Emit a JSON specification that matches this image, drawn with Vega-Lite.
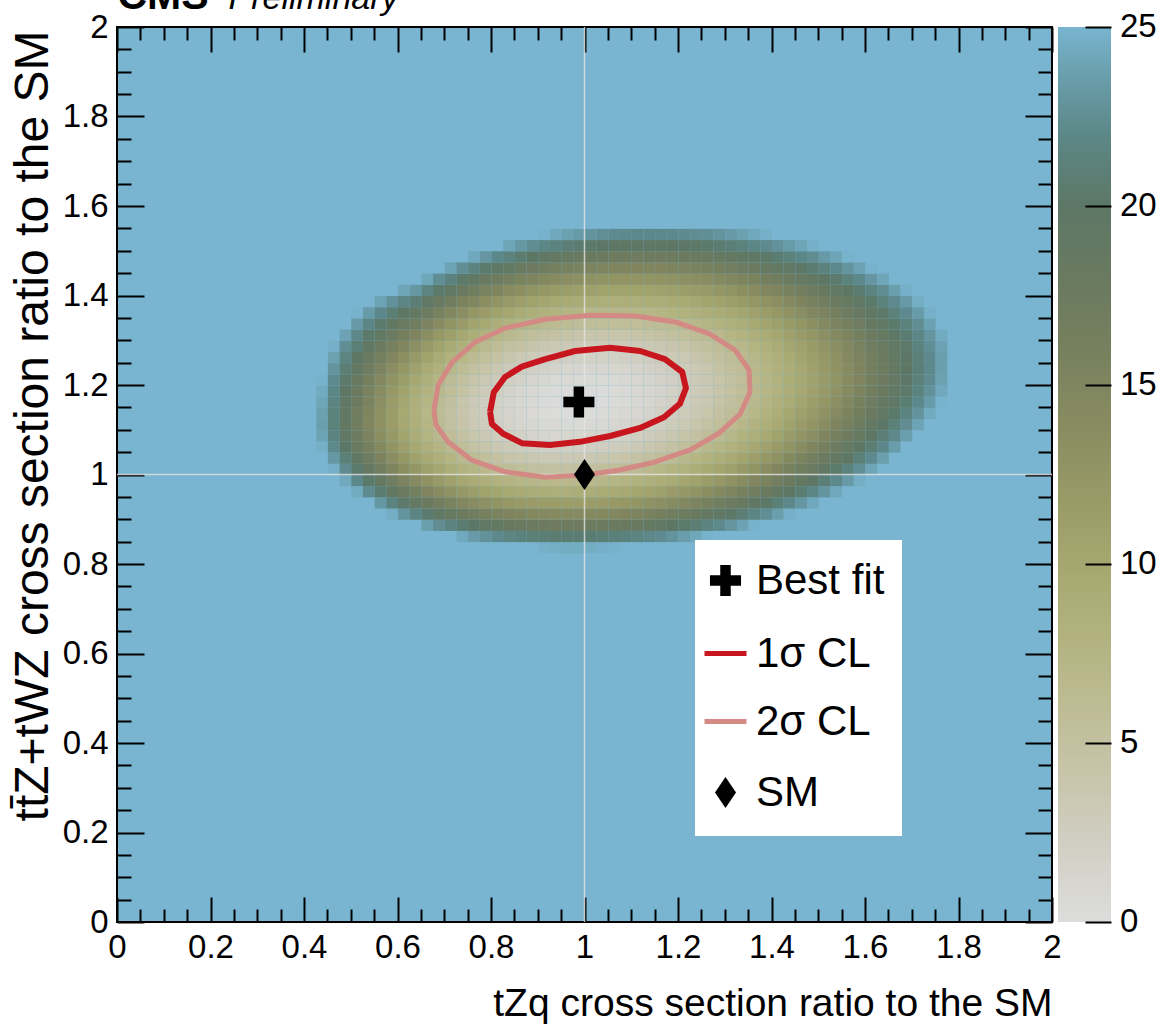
{
  "$schema": "https://vega.github.io/schema/vega-lite/v6.json",
  "width": 935,
  "height": 895,
  "autosize": "none",
  "padding": {"left": 117, "top": 27, "right": 107, "bottom": 104},
  "background": "white",
  "config": {
    "view": {"fill": "#79b5d0", "stroke": "black", "strokeWidth": 2},
    "axis": {"domain": false, "grid": false, "tickColor": "black", "tickWidth": 2, "labelColor": "black", "titleColor": "black", "labelFont": "Liberation Sans", "titleFont": "Liberation Sans", "titleFontWeight": "normal", "zindex": 1, "labelFlush": false, "labelOverlap": false, "labelBound": false}
  },
  "resolve": {"axis": {"x": "independent", "y": "independent"}},
  "layer": [
    {
      "data": {"values": [
{"tzq":0.9125,"ttz":0.8375,"nll":24.7},{"tzq":0.9375,"ttz":0.8375,"nll":24.6},{"tzq":0.9625,"ttz":0.8375,"nll":24.5},{"tzq":0.9875,"ttz":0.8375,"nll":24.5},{"tzq":1.0125,"ttz":0.8375,"nll":24.5},{"tzq":1.0375,"ttz":0.8375,"nll":24.7},{"tzq":1.0625,"ttz":0.8375,"nll":24.8},
{"tzq":0.7375,"ttz":0.8625,"nll":24.3},{"tzq":0.7625,"ttz":0.8625,"nll":23.5},{"tzq":0.7875,"ttz":0.8625,"nll":22.9},{"tzq":0.8125,"ttz":0.8625,"nll":22.3},{"tzq":0.8375,"ttz":0.8625,"nll":21.8},{"tzq":0.8625,"ttz":0.8625,"nll":21.4},{"tzq":0.8875,"ttz":0.8625,"nll":21.1},{"tzq":0.9125,"ttz":0.8625,"nll":20.9},{"tzq":0.9375,"ttz":0.8625,"nll":20.7},{"tzq":0.9625,"ttz":0.8625,"nll":20.7},{"tzq":0.9875,"ttz":0.8625,"nll":20.7},{"tzq":1.0125,"ttz":0.8625,"nll":20.7},{"tzq":1.0375,"ttz":0.8625,"nll":20.9},{"tzq":1.0625,"ttz":0.8625,"nll":21.1},{"tzq":1.0875,"ttz":0.8625,"nll":21.4},{"tzq":1.1125,"ttz":0.8625,"nll":21.7},{"tzq":1.1375,"ttz":0.8625,"nll":22.1},{"tzq":1.1625,"ttz":0.8625,"nll":22.5},{"tzq":1.1875,"ttz":0.8625,"nll":23.0},{"tzq":1.2125,"ttz":0.8625,"nll":23.6},{"tzq":1.2375,"ttz":0.8625,"nll":24.2},{"tzq":1.2625,"ttz":0.8625,"nll":24.8},
{"tzq":0.6625,"ttz":0.8875,"nll":23.7},{"tzq":0.6875,"ttz":0.8875,"nll":22.6},{"tzq":0.7125,"ttz":0.8875,"nll":21.6},{"tzq":0.7375,"ttz":0.8875,"nll":20.7},{"tzq":0.7625,"ttz":0.8875,"nll":19.9},{"tzq":0.7875,"ttz":0.8875,"nll":19.3},{"tzq":0.8125,"ttz":0.8875,"nll":18.7},{"tzq":0.8375,"ttz":0.8875,"nll":18.2},{"tzq":0.8625,"ttz":0.8875,"nll":17.9},{"tzq":0.8875,"ttz":0.8875,"nll":17.6},{"tzq":0.9125,"ttz":0.8875,"nll":17.4},{"tzq":0.9375,"ttz":0.8875,"nll":17.2},{"tzq":0.9625,"ttz":0.8875,"nll":17.2},{"tzq":0.9875,"ttz":0.8875,"nll":17.2},{"tzq":1.0125,"ttz":0.8875,"nll":17.3},{"tzq":1.0375,"ttz":0.8875,"nll":17.5},{"tzq":1.0625,"ttz":0.8875,"nll":17.7},{"tzq":1.0875,"ttz":0.8875,"nll":18.0},{"tzq":1.1125,"ttz":0.8875,"nll":18.3},{"tzq":1.1375,"ttz":0.8875,"nll":18.7},{"tzq":1.1625,"ttz":0.8875,"nll":19.2},{"tzq":1.1875,"ttz":0.8875,"nll":19.7},{"tzq":1.2125,"ttz":0.8875,"nll":20.3},{"tzq":1.2375,"ttz":0.8875,"nll":20.9},{"tzq":1.2625,"ttz":0.8875,"nll":21.6},{"tzq":1.2875,"ttz":0.8875,"nll":22.3},{"tzq":1.3125,"ttz":0.8875,"nll":23.1},{"tzq":1.3375,"ttz":0.8875,"nll":23.9},{"tzq":1.3625,"ttz":0.8875,"nll":24.8},
{"tzq":0.5875,"ttz":0.9125,"nll":24.6},{"tzq":0.6125,"ttz":0.9125,"nll":23.1},{"tzq":0.6375,"ttz":0.9125,"nll":21.7},{"tzq":0.6625,"ttz":0.9125,"nll":20.5},{"tzq":0.6875,"ttz":0.9125,"nll":19.3},{"tzq":0.7125,"ttz":0.9125,"nll":18.3},{"tzq":0.7375,"ttz":0.9125,"nll":17.5},{"tzq":0.7625,"ttz":0.9125,"nll":16.7},{"tzq":0.7875,"ttz":0.9125,"nll":16.0},{"tzq":0.8125,"ttz":0.9125,"nll":15.5},{"tzq":0.8375,"ttz":0.9125,"nll":15.0},{"tzq":0.8625,"ttz":0.9125,"nll":14.7},{"tzq":0.8875,"ttz":0.9125,"nll":14.4},{"tzq":0.9125,"ttz":0.9125,"nll":14.2},{"tzq":0.9375,"ttz":0.9125,"nll":14.1},{"tzq":0.9625,"ttz":0.9125,"nll":14.1},{"tzq":0.9875,"ttz":0.9125,"nll":14.1},{"tzq":1.0125,"ttz":0.9125,"nll":14.2},{"tzq":1.0375,"ttz":0.9125,"nll":14.4},{"tzq":1.0625,"ttz":0.9125,"nll":14.6},{"tzq":1.0875,"ttz":0.9125,"nll":14.9},{"tzq":1.1125,"ttz":0.9125,"nll":15.3},{"tzq":1.1375,"ttz":0.9125,"nll":15.7},{"tzq":1.1625,"ttz":0.9125,"nll":16.2},{"tzq":1.1875,"ttz":0.9125,"nll":16.7},{"tzq":1.2125,"ttz":0.9125,"nll":17.3},{"tzq":1.2375,"ttz":0.9125,"nll":17.9},{"tzq":1.2625,"ttz":0.9125,"nll":18.6},{"tzq":1.2875,"ttz":0.9125,"nll":19.3},{"tzq":1.3125,"ttz":0.9125,"nll":20.1},{"tzq":1.3375,"ttz":0.9125,"nll":20.9},{"tzq":1.3625,"ttz":0.9125,"nll":21.8},{"tzq":1.3875,"ttz":0.9125,"nll":22.7},{"tzq":1.4125,"ttz":0.9125,"nll":23.7},{"tzq":1.4375,"ttz":0.9125,"nll":24.7},
{"tzq":0.5625,"ttz":0.9375,"nll":23.3},{"tzq":0.5875,"ttz":0.9375,"nll":21.6},{"tzq":0.6125,"ttz":0.9375,"nll":20.2},{"tzq":0.6375,"ttz":0.9375,"nll":18.8},{"tzq":0.6625,"ttz":0.9375,"nll":17.6},{"tzq":0.6875,"ttz":0.9375,"nll":16.5},{"tzq":0.7125,"ttz":0.9375,"nll":15.5},{"tzq":0.7375,"ttz":0.9375,"nll":14.6},{"tzq":0.7625,"ttz":0.9375,"nll":13.8},{"tzq":0.7875,"ttz":0.9375,"nll":13.2},{"tzq":0.8125,"ttz":0.9375,"nll":12.6},{"tzq":0.8375,"ttz":0.9375,"nll":12.2},{"tzq":0.8625,"ttz":0.9375,"nll":11.8},{"tzq":0.8875,"ttz":0.9375,"nll":11.6},{"tzq":0.9125,"ttz":0.9375,"nll":11.4},{"tzq":0.9375,"ttz":0.9375,"nll":11.3},{"tzq":0.9625,"ttz":0.9375,"nll":11.3},{"tzq":0.9875,"ttz":0.9375,"nll":11.3},{"tzq":1.0125,"ttz":0.9375,"nll":11.4},{"tzq":1.0375,"ttz":0.9375,"nll":11.6},{"tzq":1.0625,"ttz":0.9375,"nll":11.9},{"tzq":1.0875,"ttz":0.9375,"nll":12.2},{"tzq":1.1125,"ttz":0.9375,"nll":12.5},{"tzq":1.1375,"ttz":0.9375,"nll":13.0},{"tzq":1.1625,"ttz":0.9375,"nll":13.4},{"tzq":1.1875,"ttz":0.9375,"nll":14.0},{"tzq":1.2125,"ttz":0.9375,"nll":14.6},{"tzq":1.2375,"ttz":0.9375,"nll":15.2},{"tzq":1.2625,"ttz":0.9375,"nll":15.9},{"tzq":1.2875,"ttz":0.9375,"nll":16.7},{"tzq":1.3125,"ttz":0.9375,"nll":17.4},{"tzq":1.3375,"ttz":0.9375,"nll":18.3},{"tzq":1.3625,"ttz":0.9375,"nll":19.2},{"tzq":1.3875,"ttz":0.9375,"nll":20.1},{"tzq":1.4125,"ttz":0.9375,"nll":21.1},{"tzq":1.4375,"ttz":0.9375,"nll":22.1},{"tzq":1.4625,"ttz":0.9375,"nll":23.2},{"tzq":1.4875,"ttz":0.9375,"nll":24.3},
{"tzq":0.5125,"ttz":0.9625,"nll":24.4},{"tzq":0.5375,"ttz":0.9625,"nll":22.5},{"tzq":0.5625,"ttz":0.9625,"nll":20.7},{"tzq":0.5875,"ttz":0.9625,"nll":19.1},{"tzq":0.6125,"ttz":0.9625,"nll":17.6},{"tzq":0.6375,"ttz":0.9625,"nll":16.3},{"tzq":0.6625,"ttz":0.9625,"nll":15.0},{"tzq":0.6875,"ttz":0.9625,"nll":13.9},{"tzq":0.7125,"ttz":0.9625,"nll":13.0},{"tzq":0.7375,"ttz":0.9625,"nll":12.1},{"tzq":0.7625,"ttz":0.9625,"nll":11.3},{"tzq":0.7875,"ttz":0.9625,"nll":10.7},{"tzq":0.8125,"ttz":0.9625,"nll":10.2},{"tzq":0.8375,"ttz":0.9625,"nll":9.7},{"tzq":0.8625,"ttz":0.9625,"nll":9.4},{"tzq":0.8875,"ttz":0.9625,"nll":9.1},{"tzq":0.9125,"ttz":0.9625,"nll":8.9},{"tzq":0.9375,"ttz":0.9625,"nll":8.8},{"tzq":0.9625,"ttz":0.9625,"nll":8.8},{"tzq":0.9875,"ttz":0.9625,"nll":8.9},{"tzq":1.0125,"ttz":0.9625,"nll":9.0},{"tzq":1.0375,"ttz":0.9625,"nll":9.2},{"tzq":1.0625,"ttz":0.9625,"nll":9.4},{"tzq":1.0875,"ttz":0.9625,"nll":9.7},{"tzq":1.1125,"ttz":0.9625,"nll":10.1},{"tzq":1.1375,"ttz":0.9625,"nll":10.5},{"tzq":1.1625,"ttz":0.9625,"nll":11.0},{"tzq":1.1875,"ttz":0.9625,"nll":11.6},{"tzq":1.2125,"ttz":0.9625,"nll":12.2},{"tzq":1.2375,"ttz":0.9625,"nll":12.8},{"tzq":1.2625,"ttz":0.9625,"nll":13.5},{"tzq":1.2875,"ttz":0.9625,"nll":14.3},{"tzq":1.3125,"ttz":0.9625,"nll":15.1},{"tzq":1.3375,"ttz":0.9625,"nll":15.9},{"tzq":1.3625,"ttz":0.9625,"nll":16.8},{"tzq":1.3875,"ttz":0.9625,"nll":17.7},{"tzq":1.4125,"ttz":0.9625,"nll":18.7},{"tzq":1.4375,"ttz":0.9625,"nll":19.8},{"tzq":1.4625,"ttz":0.9625,"nll":20.8},{"tzq":1.4875,"ttz":0.9625,"nll":21.9},{"tzq":1.5125,"ttz":0.9625,"nll":23.1},{"tzq":1.5375,"ttz":0.9625,"nll":24.3},
{"tzq":0.4875,"ttz":0.9875,"nll":24.3},{"tzq":0.5125,"ttz":0.9875,"nll":22.2},{"tzq":0.5375,"ttz":0.9875,"nll":20.3},{"tzq":0.5625,"ttz":0.9875,"nll":18.6},{"tzq":0.5875,"ttz":0.9875,"nll":16.9},{"tzq":0.6125,"ttz":0.9875,"nll":15.4},{"tzq":0.6375,"ttz":0.9875,"nll":14.1},{"tzq":0.6625,"ttz":0.9875,"nll":12.9},{"tzq":0.6875,"ttz":0.9875,"nll":11.8},{"tzq":0.7125,"ttz":0.9875,"nll":10.8},{"tzq":0.7375,"ttz":0.9875,"nll":9.9},{"tzq":0.7625,"ttz":0.9875,"nll":9.2},{"tzq":0.7875,"ttz":0.9875,"nll":8.5},{"tzq":0.8125,"ttz":0.9875,"nll":8.0},{"tzq":0.8375,"ttz":0.9875,"nll":7.6},{"tzq":0.8625,"ttz":0.9875,"nll":7.2},{"tzq":0.8875,"ttz":0.9875,"nll":7.0},{"tzq":0.9125,"ttz":0.9875,"nll":6.8},{"tzq":0.9375,"ttz":0.9875,"nll":6.7},{"tzq":0.9625,"ttz":0.9875,"nll":6.7},{"tzq":0.9875,"ttz":0.9875,"nll":6.7},{"tzq":1.0125,"ttz":0.9875,"nll":6.8},{"tzq":1.0375,"ttz":0.9875,"nll":7.0},{"tzq":1.0625,"ttz":0.9875,"nll":7.3},{"tzq":1.0875,"ttz":0.9875,"nll":7.6},{"tzq":1.1125,"ttz":0.9875,"nll":8.0},{"tzq":1.1375,"ttz":0.9875,"nll":8.4},{"tzq":1.1625,"ttz":0.9875,"nll":8.9},{"tzq":1.1875,"ttz":0.9875,"nll":9.4},{"tzq":1.2125,"ttz":0.9875,"nll":10.0},{"tzq":1.2375,"ttz":0.9875,"nll":10.7},{"tzq":1.2625,"ttz":0.9875,"nll":11.4},{"tzq":1.2875,"ttz":0.9875,"nll":12.2},{"tzq":1.3125,"ttz":0.9875,"nll":13.0},{"tzq":1.3375,"ttz":0.9875,"nll":13.8},{"tzq":1.3625,"ttz":0.9875,"nll":14.7},{"tzq":1.3875,"ttz":0.9875,"nll":15.6},{"tzq":1.4125,"ttz":0.9875,"nll":16.6},{"tzq":1.4375,"ttz":0.9875,"nll":17.7},{"tzq":1.4625,"ttz":0.9875,"nll":18.7},{"tzq":1.4875,"ttz":0.9875,"nll":19.8},{"tzq":1.5125,"ttz":0.9875,"nll":21.0},{"tzq":1.5375,"ttz":0.9875,"nll":22.2},{"tzq":1.5625,"ttz":0.9875,"nll":23.4},{"tzq":1.5875,"ttz":0.9875,"nll":24.6},
{"tzq":0.4625,"ttz":1.0125,"nll":24.7},{"tzq":0.4875,"ttz":1.0125,"nll":22.5},{"tzq":0.5125,"ttz":1.0125,"nll":20.4},{"tzq":0.5375,"ttz":1.0125,"nll":18.5},{"tzq":0.5625,"ttz":1.0125,"nll":16.8},{"tzq":0.5875,"ttz":1.0125,"nll":15.1},{"tzq":0.6125,"ttz":1.0125,"nll":13.6},{"tzq":0.6375,"ttz":1.0125,"nll":12.3},{"tzq":0.6625,"ttz":1.0125,"nll":11.1},{"tzq":0.6875,"ttz":1.0125,"nll":10.0},{"tzq":0.7125,"ttz":1.0125,"nll":9.0},{"tzq":0.7375,"ttz":1.0125,"nll":8.1},{"tzq":0.7625,"ttz":1.0125,"nll":7.4},{"tzq":0.7875,"ttz":1.0125,"nll":6.7},{"tzq":0.8125,"ttz":1.0125,"nll":6.2},{"tzq":0.8375,"ttz":1.0125,"nll":5.7},{"tzq":0.8625,"ttz":1.0125,"nll":5.4},{"tzq":0.8875,"ttz":1.0125,"nll":5.1},{"tzq":0.9125,"ttz":1.0125,"nll":5.0},{"tzq":0.9375,"ttz":1.0125,"nll":4.9},{"tzq":0.9625,"ttz":1.0125,"nll":4.8},{"tzq":0.9875,"ttz":1.0125,"nll":4.9},{"tzq":1.0125,"ttz":1.0125,"nll":5.0},{"tzq":1.0375,"ttz":1.0125,"nll":5.2},{"tzq":1.0625,"ttz":1.0125,"nll":5.5},{"tzq":1.0875,"ttz":1.0125,"nll":5.8},{"tzq":1.1125,"ttz":1.0125,"nll":6.1},{"tzq":1.1375,"ttz":1.0125,"nll":6.6},{"tzq":1.1625,"ttz":1.0125,"nll":7.1},{"tzq":1.1875,"ttz":1.0125,"nll":7.6},{"tzq":1.2125,"ttz":1.0125,"nll":8.2},{"tzq":1.2375,"ttz":1.0125,"nll":8.9},{"tzq":1.2625,"ttz":1.0125,"nll":9.6},{"tzq":1.2875,"ttz":1.0125,"nll":10.3},{"tzq":1.3125,"ttz":1.0125,"nll":11.1},{"tzq":1.3375,"ttz":1.0125,"nll":11.9},{"tzq":1.3625,"ttz":1.0125,"nll":12.8},{"tzq":1.3875,"ttz":1.0125,"nll":13.8},{"tzq":1.4125,"ttz":1.0125,"nll":14.8},{"tzq":1.4375,"ttz":1.0125,"nll":15.8},{"tzq":1.4625,"ttz":1.0125,"nll":16.8},{"tzq":1.4875,"ttz":1.0125,"nll":18.0},{"tzq":1.5125,"ttz":1.0125,"nll":19.1},{"tzq":1.5375,"ttz":1.0125,"nll":20.3},{"tzq":1.5625,"ttz":1.0125,"nll":21.5},{"tzq":1.5875,"ttz":1.0125,"nll":22.8},{"tzq":1.6125,"ttz":1.0125,"nll":24.1},
{"tzq":0.4625,"ttz":1.0375,"nll":23.3},{"tzq":0.4875,"ttz":1.0375,"nll":21.1},{"tzq":0.5125,"ttz":1.0375,"nll":19.0},{"tzq":0.5375,"ttz":1.0375,"nll":17.1},{"tzq":0.5625,"ttz":1.0375,"nll":15.3},{"tzq":0.5875,"ttz":1.0375,"nll":13.7},{"tzq":0.6125,"ttz":1.0375,"nll":12.2},{"tzq":0.6375,"ttz":1.0375,"nll":10.8},{"tzq":0.6625,"ttz":1.0375,"nll":9.6},{"tzq":0.6875,"ttz":1.0375,"nll":8.5},{"tzq":0.7125,"ttz":1.0375,"nll":7.5},{"tzq":0.7375,"ttz":1.0375,"nll":6.7},{"tzq":0.7625,"ttz":1.0375,"nll":5.9},{"tzq":0.7875,"ttz":1.0375,"nll":5.2},{"tzq":0.8125,"ttz":1.0375,"nll":4.7},{"tzq":0.8375,"ttz":1.0375,"nll":4.2},{"tzq":0.8625,"ttz":1.0375,"nll":3.9},{"tzq":0.8875,"ttz":1.0375,"nll":3.6},{"tzq":0.9125,"ttz":1.0375,"nll":3.4},{"tzq":0.9375,"ttz":1.0375,"nll":3.3},{"tzq":0.9625,"ttz":1.0375,"nll":3.3},{"tzq":0.9875,"ttz":1.0375,"nll":3.4},{"tzq":1.0125,"ttz":1.0375,"nll":3.5},{"tzq":1.0375,"ttz":1.0375,"nll":3.7},{"tzq":1.0625,"ttz":1.0375,"nll":3.9},{"tzq":1.0875,"ttz":1.0375,"nll":4.2},{"tzq":1.1125,"ttz":1.0375,"nll":4.6},{"tzq":1.1375,"ttz":1.0375,"nll":5.0},{"tzq":1.1625,"ttz":1.0375,"nll":5.5},{"tzq":1.1875,"ttz":1.0375,"nll":6.0},{"tzq":1.2125,"ttz":1.0375,"nll":6.6},{"tzq":1.2375,"ttz":1.0375,"nll":7.3},{"tzq":1.2625,"ttz":1.0375,"nll":8.0},{"tzq":1.2875,"ttz":1.0375,"nll":8.7},{"tzq":1.3125,"ttz":1.0375,"nll":9.5},{"tzq":1.3375,"ttz":1.0375,"nll":10.3},{"tzq":1.3625,"ttz":1.0375,"nll":11.2},{"tzq":1.3875,"ttz":1.0375,"nll":12.2},{"tzq":1.4125,"ttz":1.0375,"nll":13.1},{"tzq":1.4375,"ttz":1.0375,"nll":14.2},{"tzq":1.4625,"ttz":1.0375,"nll":15.2},{"tzq":1.4875,"ttz":1.0375,"nll":16.3},{"tzq":1.5125,"ttz":1.0375,"nll":17.5},{"tzq":1.5375,"ttz":1.0375,"nll":18.6},{"tzq":1.5625,"ttz":1.0375,"nll":19.8},{"tzq":1.5875,"ttz":1.0375,"nll":21.1},{"tzq":1.6125,"ttz":1.0375,"nll":22.4},{"tzq":1.6375,"ttz":1.0375,"nll":23.7},
{"tzq":0.4375,"ttz":1.0625,"nll":24.7},{"tzq":0.4625,"ttz":1.0625,"nll":22.3},{"tzq":0.4875,"ttz":1.0625,"nll":20.0},{"tzq":0.5125,"ttz":1.0625,"nll":18.0},{"tzq":0.5375,"ttz":1.0625,"nll":16.0},{"tzq":0.5625,"ttz":1.0625,"nll":14.3},{"tzq":0.5875,"ttz":1.0625,"nll":12.6},{"tzq":0.6125,"ttz":1.0625,"nll":11.1},{"tzq":0.6375,"ttz":1.0625,"nll":9.7},{"tzq":0.6625,"ttz":1.0625,"nll":8.5},{"tzq":0.6875,"ttz":1.0625,"nll":7.4},{"tzq":0.7125,"ttz":1.0625,"nll":6.4},{"tzq":0.7375,"ttz":1.0625,"nll":5.5},{"tzq":0.7625,"ttz":1.0625,"nll":4.7},{"tzq":0.7875,"ttz":1.0625,"nll":4.1},{"tzq":0.8125,"ttz":1.0625,"nll":3.5},{"tzq":0.8375,"ttz":1.0625,"nll":3.1},{"tzq":0.8625,"ttz":1.0625,"nll":2.7},{"tzq":0.8875,"ttz":1.0625,"nll":2.4},{"tzq":0.9125,"ttz":1.0625,"nll":2.2},{"tzq":0.9375,"ttz":1.0625,"nll":2.1},{"tzq":0.9625,"ttz":1.0625,"nll":2.1},{"tzq":0.9875,"ttz":1.0625,"nll":2.1},{"tzq":1.0125,"ttz":1.0625,"nll":2.2},{"tzq":1.0375,"ttz":1.0625,"nll":2.4},{"tzq":1.0625,"ttz":1.0625,"nll":2.7},{"tzq":1.0875,"ttz":1.0625,"nll":2.9},{"tzq":1.1125,"ttz":1.0625,"nll":3.3},{"tzq":1.1375,"ttz":1.0625,"nll":3.7},{"tzq":1.1625,"ttz":1.0625,"nll":4.2},{"tzq":1.1875,"ttz":1.0625,"nll":4.7},{"tzq":1.2125,"ttz":1.0625,"nll":5.3},{"tzq":1.2375,"ttz":1.0625,"nll":5.9},{"tzq":1.2625,"ttz":1.0625,"nll":6.6},{"tzq":1.2875,"ttz":1.0625,"nll":7.4},{"tzq":1.3125,"ttz":1.0625,"nll":8.1},{"tzq":1.3375,"ttz":1.0625,"nll":9.0},{"tzq":1.3625,"ttz":1.0625,"nll":9.9},{"tzq":1.3875,"ttz":1.0625,"nll":10.8},{"tzq":1.4125,"ttz":1.0625,"nll":11.8},{"tzq":1.4375,"ttz":1.0625,"nll":12.8},{"tzq":1.4625,"ttz":1.0625,"nll":13.8},{"tzq":1.4875,"ttz":1.0625,"nll":14.9},{"tzq":1.5125,"ttz":1.0625,"nll":16.0},{"tzq":1.5375,"ttz":1.0625,"nll":17.2},{"tzq":1.5625,"ttz":1.0625,"nll":18.4},{"tzq":1.5875,"ttz":1.0625,"nll":19.7},{"tzq":1.6125,"ttz":1.0625,"nll":20.9},{"tzq":1.6375,"ttz":1.0625,"nll":22.2},{"tzq":1.6625,"ttz":1.0625,"nll":23.6},
{"tzq":0.4375,"ttz":1.0875,"nll":24.0},{"tzq":0.4625,"ttz":1.0875,"nll":21.6},{"tzq":0.4875,"ttz":1.0875,"nll":19.3},{"tzq":0.5125,"ttz":1.0875,"nll":17.3},{"tzq":0.5375,"ttz":1.0875,"nll":15.3},{"tzq":0.5625,"ttz":1.0875,"nll":13.5},{"tzq":0.5875,"ttz":1.0875,"nll":11.9},{"tzq":0.6125,"ttz":1.0875,"nll":10.4},{"tzq":0.6375,"ttz":1.0875,"nll":9.0},{"tzq":0.6625,"ttz":1.0875,"nll":7.7},{"tzq":0.6875,"ttz":1.0875,"nll":6.6},{"tzq":0.7125,"ttz":1.0875,"nll":5.6},{"tzq":0.7375,"ttz":1.0875,"nll":4.7},{"tzq":0.7625,"ttz":1.0875,"nll":3.9},{"tzq":0.7875,"ttz":1.0875,"nll":3.3},{"tzq":0.8125,"ttz":1.0875,"nll":2.7},{"tzq":0.8375,"ttz":1.0875,"nll":2.2},{"tzq":0.8625,"ttz":1.0875,"nll":1.8},{"tzq":0.8875,"ttz":1.0875,"nll":1.5},{"tzq":0.9125,"ttz":1.0875,"nll":1.3},{"tzq":0.9375,"ttz":1.0875,"nll":1.2},{"tzq":0.9625,"ttz":1.0875,"nll":1.2},{"tzq":0.9875,"ttz":1.0875,"nll":1.2},{"tzq":1.0125,"ttz":1.0875,"nll":1.3},{"tzq":1.0375,"ttz":1.0875,"nll":1.4},{"tzq":1.0625,"ttz":1.0875,"nll":1.7},{"tzq":1.0875,"ttz":1.0875,"nll":2.0},{"tzq":1.1125,"ttz":1.0875,"nll":2.3},{"tzq":1.1375,"ttz":1.0875,"nll":2.7},{"tzq":1.1625,"ttz":1.0875,"nll":3.2},{"tzq":1.1875,"ttz":1.0875,"nll":3.7},{"tzq":1.2125,"ttz":1.0875,"nll":4.2},{"tzq":1.2375,"ttz":1.0875,"nll":4.9},{"tzq":1.2625,"ttz":1.0875,"nll":5.6},{"tzq":1.2875,"ttz":1.0875,"nll":6.3},{"tzq":1.3125,"ttz":1.0875,"nll":7.0},{"tzq":1.3375,"ttz":1.0875,"nll":7.9},{"tzq":1.3625,"ttz":1.0875,"nll":8.7},{"tzq":1.3875,"ttz":1.0875,"nll":9.6},{"tzq":1.4125,"ttz":1.0875,"nll":10.6},{"tzq":1.4375,"ttz":1.0875,"nll":11.6},{"tzq":1.4625,"ttz":1.0875,"nll":12.6},{"tzq":1.4875,"ttz":1.0875,"nll":13.7},{"tzq":1.5125,"ttz":1.0875,"nll":14.8},{"tzq":1.5375,"ttz":1.0875,"nll":16.0},{"tzq":1.5625,"ttz":1.0875,"nll":17.2},{"tzq":1.5875,"ttz":1.0875,"nll":18.4},{"tzq":1.6125,"ttz":1.0875,"nll":19.7},{"tzq":1.6375,"ttz":1.0875,"nll":21.0},{"tzq":1.6625,"ttz":1.0875,"nll":22.3},{"tzq":1.6875,"ttz":1.0875,"nll":23.7},
{"tzq":0.4375,"ttz":1.1125,"nll":23.7},{"tzq":0.4625,"ttz":1.1125,"nll":21.3},{"tzq":0.4875,"ttz":1.1125,"nll":19.0},{"tzq":0.5125,"ttz":1.1125,"nll":16.9},{"tzq":0.5375,"ttz":1.1125,"nll":14.9},{"tzq":0.5625,"ttz":1.1125,"nll":13.1},{"tzq":0.5875,"ttz":1.1125,"nll":11.5},{"tzq":0.6125,"ttz":1.1125,"nll":9.9},{"tzq":0.6375,"ttz":1.1125,"nll":8.5},{"tzq":0.6625,"ttz":1.1125,"nll":7.3},{"tzq":0.6875,"ttz":1.1125,"nll":6.1},{"tzq":0.7125,"ttz":1.1125,"nll":5.1},{"tzq":0.7375,"ttz":1.1125,"nll":4.2},{"tzq":0.7625,"ttz":1.1125,"nll":3.4},{"tzq":0.7875,"ttz":1.1125,"nll":2.7},{"tzq":0.8125,"ttz":1.1125,"nll":2.1},{"tzq":0.8375,"ttz":1.1125,"nll":1.6},{"tzq":0.8625,"ttz":1.1125,"nll":1.2},{"tzq":0.8875,"ttz":1.1125,"nll":0.9},{"tzq":0.9125,"ttz":1.1125,"nll":0.7},{"tzq":0.9375,"ttz":1.1125,"nll":0.6},{"tzq":0.9625,"ttz":1.1125,"nll":0.5},{"tzq":0.9875,"ttz":1.1125,"nll":0.5},{"tzq":1.0125,"ttz":1.1125,"nll":0.6},{"tzq":1.0375,"ttz":1.1125,"nll":0.7},{"tzq":1.0625,"ttz":1.1125,"nll":1.0},{"tzq":1.0875,"ttz":1.1125,"nll":1.2},{"tzq":1.1125,"ttz":1.1125,"nll":1.6},{"tzq":1.1375,"ttz":1.1125,"nll":1.9},{"tzq":1.1625,"ttz":1.1125,"nll":2.4},{"tzq":1.1875,"ttz":1.1125,"nll":2.9},{"tzq":1.2125,"ttz":1.1125,"nll":3.4},{"tzq":1.2375,"ttz":1.1125,"nll":4.0},{"tzq":1.2625,"ttz":1.1125,"nll":4.7},{"tzq":1.2875,"ttz":1.1125,"nll":5.4},{"tzq":1.3125,"ttz":1.1125,"nll":6.2},{"tzq":1.3375,"ttz":1.1125,"nll":7.0},{"tzq":1.3625,"ttz":1.1125,"nll":7.8},{"tzq":1.3875,"ttz":1.1125,"nll":8.7},{"tzq":1.4125,"ttz":1.1125,"nll":9.6},{"tzq":1.4375,"ttz":1.1125,"nll":10.6},{"tzq":1.4625,"ttz":1.1125,"nll":11.6},{"tzq":1.4875,"ttz":1.1125,"nll":12.7},{"tzq":1.5125,"ttz":1.1125,"nll":13.8},{"tzq":1.5375,"ttz":1.1125,"nll":15.0},{"tzq":1.5625,"ttz":1.1125,"nll":16.1},{"tzq":1.5875,"ttz":1.1125,"nll":17.3},{"tzq":1.6125,"ttz":1.1125,"nll":18.6},{"tzq":1.6375,"ttz":1.1125,"nll":19.9},{"tzq":1.6625,"ttz":1.1125,"nll":21.2},{"tzq":1.6875,"ttz":1.1125,"nll":22.6},{"tzq":1.7125,"ttz":1.1125,"nll":24.0},
{"tzq":0.4375,"ttz":1.1375,"nll":23.8},{"tzq":0.4625,"ttz":1.1375,"nll":21.3},{"tzq":0.4875,"ttz":1.1375,"nll":19.0},{"tzq":0.5125,"ttz":1.1375,"nll":16.9},{"tzq":0.5375,"ttz":1.1375,"nll":14.9},{"tzq":0.5625,"ttz":1.1375,"nll":13.1},{"tzq":0.5875,"ttz":1.1375,"nll":11.4},{"tzq":0.6125,"ttz":1.1375,"nll":9.8},{"tzq":0.6375,"ttz":1.1375,"nll":8.4},{"tzq":0.6625,"ttz":1.1375,"nll":7.1},{"tzq":0.6875,"ttz":1.1375,"nll":6.0},{"tzq":0.7125,"ttz":1.1375,"nll":4.9},{"tzq":0.7375,"ttz":1.1375,"nll":4.0},{"tzq":0.7625,"ttz":1.1375,"nll":3.2},{"tzq":0.7875,"ttz":1.1375,"nll":2.5},{"tzq":0.8125,"ttz":1.1375,"nll":1.9},{"tzq":0.8375,"ttz":1.1375,"nll":1.4},{"tzq":0.8625,"ttz":1.1375,"nll":1.0},{"tzq":0.8875,"ttz":1.1375,"nll":0.6},{"tzq":0.9125,"ttz":1.1375,"nll":0.4},{"tzq":0.9375,"ttz":1.1375,"nll":0.2},{"tzq":0.9625,"ttz":1.1375,"nll":0.1},{"tzq":0.9875,"ttz":1.1375,"nll":0.1},{"tzq":1.0125,"ttz":1.1375,"nll":0.2},{"tzq":1.0375,"ttz":1.1375,"nll":0.3},{"tzq":1.0625,"ttz":1.1375,"nll":0.5},{"tzq":1.0875,"ttz":1.1375,"nll":0.8},{"tzq":1.1125,"ttz":1.1375,"nll":1.1},{"tzq":1.1375,"ttz":1.1375,"nll":1.4},{"tzq":1.1625,"ttz":1.1375,"nll":1.9},{"tzq":1.1875,"ttz":1.1375,"nll":2.3},{"tzq":1.2125,"ttz":1.1375,"nll":2.9},{"tzq":1.2375,"ttz":1.1375,"nll":3.5},{"tzq":1.2625,"ttz":1.1375,"nll":4.1},{"tzq":1.2875,"ttz":1.1375,"nll":4.8},{"tzq":1.3125,"ttz":1.1375,"nll":5.5},{"tzq":1.3375,"ttz":1.1375,"nll":6.3},{"tzq":1.3625,"ttz":1.1375,"nll":7.1},{"tzq":1.3875,"ttz":1.1375,"nll":8.0},{"tzq":1.4125,"ttz":1.1375,"nll":8.9},{"tzq":1.4375,"ttz":1.1375,"nll":9.9},{"tzq":1.4625,"ttz":1.1375,"nll":10.9},{"tzq":1.4875,"ttz":1.1375,"nll":11.9},{"tzq":1.5125,"ttz":1.1375,"nll":13.0},{"tzq":1.5375,"ttz":1.1375,"nll":14.1},{"tzq":1.5625,"ttz":1.1375,"nll":15.3},{"tzq":1.5875,"ttz":1.1375,"nll":16.5},{"tzq":1.6125,"ttz":1.1375,"nll":17.7},{"tzq":1.6375,"ttz":1.1375,"nll":19.0},{"tzq":1.6625,"ttz":1.1375,"nll":20.3},{"tzq":1.6875,"ttz":1.1375,"nll":21.6},{"tzq":1.7125,"ttz":1.1375,"nll":23.0},{"tzq":1.7375,"ttz":1.1375,"nll":24.4},
{"tzq":0.4375,"ttz":1.1625,"nll":24.1},{"tzq":0.4625,"ttz":1.1625,"nll":21.7},{"tzq":0.4875,"ttz":1.1625,"nll":19.4},{"tzq":0.5125,"ttz":1.1625,"nll":17.2},{"tzq":0.5375,"ttz":1.1625,"nll":15.2},{"tzq":0.5625,"ttz":1.1625,"nll":13.4},{"tzq":0.5875,"ttz":1.1625,"nll":11.6},{"tzq":0.6125,"ttz":1.1625,"nll":10.1},{"tzq":0.6375,"ttz":1.1625,"nll":8.6},{"tzq":0.6625,"ttz":1.1625,"nll":7.3},{"tzq":0.6875,"ttz":1.1625,"nll":6.1},{"tzq":0.7125,"ttz":1.1625,"nll":5.1},{"tzq":0.7375,"ttz":1.1625,"nll":4.1},{"tzq":0.7625,"ttz":1.1625,"nll":3.3},{"tzq":0.7875,"ttz":1.1625,"nll":2.5},{"tzq":0.8125,"ttz":1.1625,"nll":1.9},{"tzq":0.8375,"ttz":1.1625,"nll":1.4},{"tzq":0.8625,"ttz":1.1625,"nll":0.9},{"tzq":0.8875,"ttz":1.1625,"nll":0.6},{"tzq":0.9125,"ttz":1.1625,"nll":0.3},{"tzq":0.9375,"ttz":1.1625,"nll":0.1},{"tzq":0.9625,"ttz":1.1625,"nll":0.0},{"tzq":0.9875,"ttz":1.1625,"nll":0.0},{"tzq":1.0125,"ttz":1.1625,"nll":0.0},{"tzq":1.0375,"ttz":1.1625,"nll":0.1},{"tzq":1.0625,"ttz":1.1625,"nll":0.3},{"tzq":1.0875,"ttz":1.1625,"nll":0.5},{"tzq":1.1125,"ttz":1.1625,"nll":0.8},{"tzq":1.1375,"ttz":1.1625,"nll":1.2},{"tzq":1.1625,"ttz":1.1625,"nll":1.6},{"tzq":1.1875,"ttz":1.1625,"nll":2.0},{"tzq":1.2125,"ttz":1.1625,"nll":2.5},{"tzq":1.2375,"ttz":1.1625,"nll":3.1},{"tzq":1.2625,"ttz":1.1625,"nll":3.7},{"tzq":1.2875,"ttz":1.1625,"nll":4.4},{"tzq":1.3125,"ttz":1.1625,"nll":5.1},{"tzq":1.3375,"ttz":1.1625,"nll":5.8},{"tzq":1.3625,"ttz":1.1625,"nll":6.6},{"tzq":1.3875,"ttz":1.1625,"nll":7.5},{"tzq":1.4125,"ttz":1.1625,"nll":8.4},{"tzq":1.4375,"ttz":1.1625,"nll":9.3},{"tzq":1.4625,"ttz":1.1625,"nll":10.3},{"tzq":1.4875,"ttz":1.1625,"nll":11.3},{"tzq":1.5125,"ttz":1.1625,"nll":12.4},{"tzq":1.5375,"ttz":1.1625,"nll":13.5},{"tzq":1.5625,"ttz":1.1625,"nll":14.6},{"tzq":1.5875,"ttz":1.1625,"nll":15.8},{"tzq":1.6125,"ttz":1.1625,"nll":17.0},{"tzq":1.6375,"ttz":1.1625,"nll":18.2},{"tzq":1.6625,"ttz":1.1625,"nll":19.5},{"tzq":1.6875,"ttz":1.1625,"nll":20.8},{"tzq":1.7125,"ttz":1.1625,"nll":22.2},{"tzq":1.7375,"ttz":1.1625,"nll":23.5},{"tzq":1.7625,"ttz":1.1625,"nll":24.9},
{"tzq":0.4375,"ttz":1.1875,"nll":24.4},{"tzq":0.4625,"ttz":1.1875,"nll":22.0},{"tzq":0.4875,"ttz":1.1875,"nll":19.7},{"tzq":0.5125,"ttz":1.1875,"nll":17.6},{"tzq":0.5375,"ttz":1.1875,"nll":15.6},{"tzq":0.5625,"ttz":1.1875,"nll":13.8},{"tzq":0.5875,"ttz":1.1875,"nll":12.1},{"tzq":0.6125,"ttz":1.1875,"nll":10.6},{"tzq":0.6375,"ttz":1.1875,"nll":9.1},{"tzq":0.6625,"ttz":1.1875,"nll":7.8},{"tzq":0.6875,"ttz":1.1875,"nll":6.6},{"tzq":0.7125,"ttz":1.1875,"nll":5.5},{"tzq":0.7375,"ttz":1.1875,"nll":4.5},{"tzq":0.7625,"ttz":1.1875,"nll":3.6},{"tzq":0.7875,"ttz":1.1875,"nll":2.9},{"tzq":0.8125,"ttz":1.1875,"nll":2.2},{"tzq":0.8375,"ttz":1.1875,"nll":1.7},{"tzq":0.8625,"ttz":1.1875,"nll":1.2},{"tzq":0.8875,"ttz":1.1875,"nll":0.8},{"tzq":0.9125,"ttz":1.1875,"nll":0.5},{"tzq":0.9375,"ttz":1.1875,"nll":0.3},{"tzq":0.9625,"ttz":1.1875,"nll":0.2},{"tzq":0.9875,"ttz":1.1875,"nll":0.1},{"tzq":1.0125,"ttz":1.1875,"nll":0.1},{"tzq":1.0375,"ttz":1.1875,"nll":0.2},{"tzq":1.0625,"ttz":1.1875,"nll":0.4},{"tzq":1.0875,"ttz":1.1875,"nll":0.6},{"tzq":1.1125,"ttz":1.1875,"nll":0.8},{"tzq":1.1375,"ttz":1.1875,"nll":1.1},{"tzq":1.1625,"ttz":1.1875,"nll":1.5},{"tzq":1.1875,"ttz":1.1875,"nll":1.9},{"tzq":1.2125,"ttz":1.1875,"nll":2.4},{"tzq":1.2375,"ttz":1.1875,"nll":3.0},{"tzq":1.2625,"ttz":1.1875,"nll":3.5},{"tzq":1.2875,"ttz":1.1875,"nll":4.2},{"tzq":1.3125,"ttz":1.1875,"nll":4.9},{"tzq":1.3375,"ttz":1.1875,"nll":5.6},{"tzq":1.3625,"ttz":1.1875,"nll":6.4},{"tzq":1.3875,"ttz":1.1875,"nll":7.2},{"tzq":1.4125,"ttz":1.1875,"nll":8.1},{"tzq":1.4375,"ttz":1.1875,"nll":9.0},{"tzq":1.4625,"ttz":1.1875,"nll":9.9},{"tzq":1.4875,"ttz":1.1875,"nll":10.9},{"tzq":1.5125,"ttz":1.1875,"nll":12.0},{"tzq":1.5375,"ttz":1.1875,"nll":13.0},{"tzq":1.5625,"ttz":1.1875,"nll":14.1},{"tzq":1.5875,"ttz":1.1875,"nll":15.3},{"tzq":1.6125,"ttz":1.1875,"nll":16.5},{"tzq":1.6375,"ttz":1.1875,"nll":17.7},{"tzq":1.6625,"ttz":1.1875,"nll":18.9},{"tzq":1.6875,"ttz":1.1875,"nll":20.2},{"tzq":1.7125,"ttz":1.1875,"nll":21.5},{"tzq":1.7375,"ttz":1.1875,"nll":22.9},{"tzq":1.7625,"ttz":1.1875,"nll":24.3},
{"tzq":0.4375,"ttz":1.2125,"nll":24.8},{"tzq":0.4625,"ttz":1.2125,"nll":22.4},{"tzq":0.4875,"ttz":1.2125,"nll":20.2},{"tzq":0.5125,"ttz":1.2125,"nll":18.2},{"tzq":0.5375,"ttz":1.2125,"nll":16.2},{"tzq":0.5625,"ttz":1.2125,"nll":14.4},{"tzq":0.5875,"ttz":1.2125,"nll":12.8},{"tzq":0.6125,"ttz":1.2125,"nll":11.3},{"tzq":0.6375,"ttz":1.2125,"nll":9.9},{"tzq":0.6625,"ttz":1.2125,"nll":8.5},{"tzq":0.6875,"ttz":1.2125,"nll":7.3},{"tzq":0.7125,"ttz":1.2125,"nll":6.1},{"tzq":0.7375,"ttz":1.2125,"nll":5.1},{"tzq":0.7625,"ttz":1.2125,"nll":4.2},{"tzq":0.7875,"ttz":1.2125,"nll":3.5},{"tzq":0.8125,"ttz":1.2125,"nll":2.8},{"tzq":0.8375,"ttz":1.2125,"nll":2.2},{"tzq":0.8625,"ttz":1.2125,"nll":1.7},{"tzq":0.8875,"ttz":1.2125,"nll":1.3},{"tzq":0.9125,"ttz":1.2125,"nll":1.0},{"tzq":0.9375,"ttz":1.2125,"nll":0.7},{"tzq":0.9625,"ttz":1.2125,"nll":0.6},{"tzq":0.9875,"ttz":1.2125,"nll":0.5},{"tzq":1.0125,"ttz":1.2125,"nll":0.5},{"tzq":1.0375,"ttz":1.2125,"nll":0.5},{"tzq":1.0625,"ttz":1.2125,"nll":0.7},{"tzq":1.0875,"ttz":1.2125,"nll":0.8},{"tzq":1.1125,"ttz":1.2125,"nll":1.1},{"tzq":1.1375,"ttz":1.2125,"nll":1.3},{"tzq":1.1625,"ttz":1.2125,"nll":1.7},{"tzq":1.1875,"ttz":1.2125,"nll":2.1},{"tzq":1.2125,"ttz":1.2125,"nll":2.6},{"tzq":1.2375,"ttz":1.2125,"nll":3.1},{"tzq":1.2625,"ttz":1.2125,"nll":3.6},{"tzq":1.2875,"ttz":1.2125,"nll":4.2},{"tzq":1.3125,"ttz":1.2125,"nll":4.9},{"tzq":1.3375,"ttz":1.2125,"nll":5.6},{"tzq":1.3625,"ttz":1.2125,"nll":6.4},{"tzq":1.3875,"ttz":1.2125,"nll":7.2},{"tzq":1.4125,"ttz":1.2125,"nll":8.0},{"tzq":1.4375,"ttz":1.2125,"nll":8.9},{"tzq":1.4625,"ttz":1.2125,"nll":9.8},{"tzq":1.4875,"ttz":1.2125,"nll":10.8},{"tzq":1.5125,"ttz":1.2125,"nll":11.8},{"tzq":1.5375,"ttz":1.2125,"nll":12.8},{"tzq":1.5625,"ttz":1.2125,"nll":13.9},{"tzq":1.5875,"ttz":1.2125,"nll":15.0},{"tzq":1.6125,"ttz":1.2125,"nll":16.2},{"tzq":1.6375,"ttz":1.2125,"nll":17.4},{"tzq":1.6625,"ttz":1.2125,"nll":18.6},{"tzq":1.6875,"ttz":1.2125,"nll":19.9},{"tzq":1.7125,"ttz":1.2125,"nll":21.2},{"tzq":1.7375,"ttz":1.2125,"nll":22.5},{"tzq":1.7625,"ttz":1.2125,"nll":23.8},
{"tzq":0.4625,"ttz":1.2375,"nll":23.1},{"tzq":0.4875,"ttz":1.2375,"nll":20.9},{"tzq":0.5125,"ttz":1.2375,"nll":18.9},{"tzq":0.5375,"ttz":1.2375,"nll":17.0},{"tzq":0.5625,"ttz":1.2375,"nll":15.3},{"tzq":0.5875,"ttz":1.2375,"nll":13.7},{"tzq":0.6125,"ttz":1.2375,"nll":12.2},{"tzq":0.6375,"ttz":1.2375,"nll":10.8},{"tzq":0.6625,"ttz":1.2375,"nll":9.4},{"tzq":0.6875,"ttz":1.2375,"nll":8.2},{"tzq":0.7125,"ttz":1.2375,"nll":7.0},{"tzq":0.7375,"ttz":1.2375,"nll":6.0},{"tzq":0.7625,"ttz":1.2375,"nll":5.1},{"tzq":0.7875,"ttz":1.2375,"nll":4.3},{"tzq":0.8125,"ttz":1.2375,"nll":3.6},{"tzq":0.8375,"ttz":1.2375,"nll":2.9},{"tzq":0.8625,"ttz":1.2375,"nll":2.4},{"tzq":0.8875,"ttz":1.2375,"nll":2.0},{"tzq":0.9125,"ttz":1.2375,"nll":1.7},{"tzq":0.9375,"ttz":1.2375,"nll":1.4},{"tzq":0.9625,"ttz":1.2375,"nll":1.2},{"tzq":0.9875,"ttz":1.2375,"nll":1.1},{"tzq":1.0125,"ttz":1.2375,"nll":1.1},{"tzq":1.0375,"ttz":1.2375,"nll":1.1},{"tzq":1.0625,"ttz":1.2375,"nll":1.2},{"tzq":1.0875,"ttz":1.2375,"nll":1.3},{"tzq":1.1125,"ttz":1.2375,"nll":1.5},{"tzq":1.1375,"ttz":1.2375,"nll":1.8},{"tzq":1.1625,"ttz":1.2375,"nll":2.1},{"tzq":1.1875,"ttz":1.2375,"nll":2.5},{"tzq":1.2125,"ttz":1.2375,"nll":2.9},{"tzq":1.2375,"ttz":1.2375,"nll":3.4},{"tzq":1.2625,"ttz":1.2375,"nll":3.9},{"tzq":1.2875,"ttz":1.2375,"nll":4.5},{"tzq":1.3125,"ttz":1.2375,"nll":5.2},{"tzq":1.3375,"ttz":1.2375,"nll":5.8},{"tzq":1.3625,"ttz":1.2375,"nll":6.6},{"tzq":1.3875,"ttz":1.2375,"nll":7.4},{"tzq":1.4125,"ttz":1.2375,"nll":8.2},{"tzq":1.4375,"ttz":1.2375,"nll":9.0},{"tzq":1.4625,"ttz":1.2375,"nll":9.9},{"tzq":1.4875,"ttz":1.2375,"nll":10.9},{"tzq":1.5125,"ttz":1.2375,"nll":11.9},{"tzq":1.5375,"ttz":1.2375,"nll":12.9},{"tzq":1.5625,"ttz":1.2375,"nll":13.9},{"tzq":1.5875,"ttz":1.2375,"nll":15.0},{"tzq":1.6125,"ttz":1.2375,"nll":16.2},{"tzq":1.6375,"ttz":1.2375,"nll":17.3},{"tzq":1.6625,"ttz":1.2375,"nll":18.5},{"tzq":1.6875,"ttz":1.2375,"nll":19.8},{"tzq":1.7125,"ttz":1.2375,"nll":21.0},{"tzq":1.7375,"ttz":1.2375,"nll":22.3},{"tzq":1.7625,"ttz":1.2375,"nll":23.7},
{"tzq":0.4625,"ttz":1.2625,"nll":23.8},{"tzq":0.4875,"ttz":1.2625,"nll":21.7},{"tzq":0.5125,"ttz":1.2625,"nll":19.8},{"tzq":0.5375,"ttz":1.2625,"nll":18.0},{"tzq":0.5625,"ttz":1.2625,"nll":16.3},{"tzq":0.5875,"ttz":1.2625,"nll":14.7},{"tzq":0.6125,"ttz":1.2625,"nll":13.3},{"tzq":0.6375,"ttz":1.2625,"nll":12.0},{"tzq":0.6625,"ttz":1.2625,"nll":10.6},{"tzq":0.6875,"ttz":1.2625,"nll":9.3},{"tzq":0.7125,"ttz":1.2625,"nll":8.1},{"tzq":0.7375,"ttz":1.2625,"nll":7.1},{"tzq":0.7625,"ttz":1.2625,"nll":6.1},{"tzq":0.7875,"ttz":1.2625,"nll":5.3},{"tzq":0.8125,"ttz":1.2625,"nll":4.6},{"tzq":0.8375,"ttz":1.2625,"nll":3.9},{"tzq":0.8625,"ttz":1.2625,"nll":3.4},{"tzq":0.8875,"ttz":1.2625,"nll":2.9},{"tzq":0.9125,"ttz":1.2625,"nll":2.6},{"tzq":0.9375,"ttz":1.2625,"nll":2.3},{"tzq":0.9625,"ttz":1.2625,"nll":2.1},{"tzq":0.9875,"ttz":1.2625,"nll":1.9},{"tzq":1.0125,"ttz":1.2625,"nll":1.9},{"tzq":1.0375,"ttz":1.2625,"nll":1.9},{"tzq":1.0625,"ttz":1.2625,"nll":1.9},{"tzq":1.0875,"ttz":1.2625,"nll":2.0},{"tzq":1.1125,"ttz":1.2625,"nll":2.2},{"tzq":1.1375,"ttz":1.2625,"nll":2.5},{"tzq":1.1625,"ttz":1.2625,"nll":2.8},{"tzq":1.1875,"ttz":1.2625,"nll":3.1},{"tzq":1.2125,"ttz":1.2625,"nll":3.5},{"tzq":1.2375,"ttz":1.2625,"nll":4.0},{"tzq":1.2625,"ttz":1.2625,"nll":4.5},{"tzq":1.2875,"ttz":1.2625,"nll":5.1},{"tzq":1.3125,"ttz":1.2625,"nll":5.7},{"tzq":1.3375,"ttz":1.2625,"nll":6.3},{"tzq":1.3625,"ttz":1.2625,"nll":7.0},{"tzq":1.3875,"ttz":1.2625,"nll":7.8},{"tzq":1.4125,"ttz":1.2625,"nll":8.6},{"tzq":1.4375,"ttz":1.2625,"nll":9.4},{"tzq":1.4625,"ttz":1.2625,"nll":10.3},{"tzq":1.4875,"ttz":1.2625,"nll":11.2},{"tzq":1.5125,"ttz":1.2625,"nll":12.1},{"tzq":1.5375,"ttz":1.2625,"nll":13.1},{"tzq":1.5625,"ttz":1.2625,"nll":14.2},{"tzq":1.5875,"ttz":1.2625,"nll":15.2},{"tzq":1.6125,"ttz":1.2625,"nll":16.3},{"tzq":1.6375,"ttz":1.2625,"nll":17.5},{"tzq":1.6625,"ttz":1.2625,"nll":18.7},{"tzq":1.6875,"ttz":1.2625,"nll":19.9},{"tzq":1.7125,"ttz":1.2625,"nll":21.1},{"tzq":1.7375,"ttz":1.2625,"nll":22.4},{"tzq":1.7625,"ttz":1.2625,"nll":23.7},
{"tzq":0.4625,"ttz":1.2875,"nll":24.7},{"tzq":0.4875,"ttz":1.2875,"nll":22.7},{"tzq":0.5125,"ttz":1.2875,"nll":20.9},{"tzq":0.5375,"ttz":1.2875,"nll":19.1},{"tzq":0.5625,"ttz":1.2875,"nll":17.5},{"tzq":0.5875,"ttz":1.2875,"nll":16.0},{"tzq":0.6125,"ttz":1.2875,"nll":14.7},{"tzq":0.6375,"ttz":1.2875,"nll":13.4},{"tzq":0.6625,"ttz":1.2875,"nll":12.0},{"tzq":0.6875,"ttz":1.2875,"nll":10.6},{"tzq":0.7125,"ttz":1.2875,"nll":9.4},{"tzq":0.7375,"ttz":1.2875,"nll":8.4},{"tzq":0.7625,"ttz":1.2875,"nll":7.4},{"tzq":0.7875,"ttz":1.2875,"nll":6.5},{"tzq":0.8125,"ttz":1.2875,"nll":5.8},{"tzq":0.8375,"ttz":1.2875,"nll":5.1},{"tzq":0.8625,"ttz":1.2875,"nll":4.6},{"tzq":0.8875,"ttz":1.2875,"nll":4.1},{"tzq":0.9125,"ttz":1.2875,"nll":3.7},{"tzq":0.9375,"ttz":1.2875,"nll":3.4},{"tzq":0.9625,"ttz":1.2875,"nll":3.1},{"tzq":0.9875,"ttz":1.2875,"nll":3.0},{"tzq":1.0125,"ttz":1.2875,"nll":2.9},{"tzq":1.0375,"ttz":1.2875,"nll":2.8},{"tzq":1.0625,"ttz":1.2875,"nll":2.9},{"tzq":1.0875,"ttz":1.2875,"nll":3.0},{"tzq":1.1125,"ttz":1.2875,"nll":3.1},{"tzq":1.1375,"ttz":1.2875,"nll":3.4},{"tzq":1.1625,"ttz":1.2875,"nll":3.6},{"tzq":1.1875,"ttz":1.2875,"nll":4.0},{"tzq":1.2125,"ttz":1.2875,"nll":4.3},{"tzq":1.2375,"ttz":1.2875,"nll":4.8},{"tzq":1.2625,"ttz":1.2875,"nll":5.3},{"tzq":1.2875,"ttz":1.2875,"nll":5.8},{"tzq":1.3125,"ttz":1.2875,"nll":6.4},{"tzq":1.3375,"ttz":1.2875,"nll":7.0},{"tzq":1.3625,"ttz":1.2875,"nll":7.7},{"tzq":1.3875,"ttz":1.2875,"nll":8.4},{"tzq":1.4125,"ttz":1.2875,"nll":9.2},{"tzq":1.4375,"ttz":1.2875,"nll":10.0},{"tzq":1.4625,"ttz":1.2875,"nll":10.8},{"tzq":1.4875,"ttz":1.2875,"nll":11.7},{"tzq":1.5125,"ttz":1.2875,"nll":12.6},{"tzq":1.5375,"ttz":1.2875,"nll":13.6},{"tzq":1.5625,"ttz":1.2875,"nll":14.6},{"tzq":1.5875,"ttz":1.2875,"nll":15.7},{"tzq":1.6125,"ttz":1.2875,"nll":16.7},{"tzq":1.6375,"ttz":1.2875,"nll":17.9},{"tzq":1.6625,"ttz":1.2875,"nll":19.0},{"tzq":1.6875,"ttz":1.2875,"nll":20.2},{"tzq":1.7125,"ttz":1.2875,"nll":21.4},{"tzq":1.7375,"ttz":1.2875,"nll":22.7},{"tzq":1.7625,"ttz":1.2875,"nll":23.9},
{"tzq":0.4875,"ttz":1.3125,"nll":23.9},{"tzq":0.5125,"ttz":1.3125,"nll":22.1},{"tzq":0.5375,"ttz":1.3125,"nll":20.4},{"tzq":0.5625,"ttz":1.3125,"nll":18.9},{"tzq":0.5875,"ttz":1.3125,"nll":17.5},{"tzq":0.6125,"ttz":1.3125,"nll":16.2},{"tzq":0.6375,"ttz":1.3125,"nll":15.0},{"tzq":0.6625,"ttz":1.3125,"nll":13.5},{"tzq":0.6875,"ttz":1.3125,"nll":12.2},{"tzq":0.7125,"ttz":1.3125,"nll":11.0},{"tzq":0.7375,"ttz":1.3125,"nll":9.9},{"tzq":0.7625,"ttz":1.3125,"nll":8.9},{"tzq":0.7875,"ttz":1.3125,"nll":8.0},{"tzq":0.8125,"ttz":1.3125,"nll":7.2},{"tzq":0.8375,"ttz":1.3125,"nll":6.5},{"tzq":0.8625,"ttz":1.3125,"nll":5.9},{"tzq":0.8875,"ttz":1.3125,"nll":5.4},{"tzq":0.9125,"ttz":1.3125,"nll":5.0},{"tzq":0.9375,"ttz":1.3125,"nll":4.7},{"tzq":0.9625,"ttz":1.3125,"nll":4.4},{"tzq":0.9875,"ttz":1.3125,"nll":4.2},{"tzq":1.0125,"ttz":1.3125,"nll":4.1},{"tzq":1.0375,"ttz":1.3125,"nll":4.0},{"tzq":1.0625,"ttz":1.3125,"nll":4.1},{"tzq":1.0875,"ttz":1.3125,"nll":4.1},{"tzq":1.1125,"ttz":1.3125,"nll":4.3},{"tzq":1.1375,"ttz":1.3125,"nll":4.5},{"tzq":1.1625,"ttz":1.3125,"nll":4.7},{"tzq":1.1875,"ttz":1.3125,"nll":5.0},{"tzq":1.2125,"ttz":1.3125,"nll":5.4},{"tzq":1.2375,"ttz":1.3125,"nll":5.8},{"tzq":1.2625,"ttz":1.3125,"nll":6.2},{"tzq":1.2875,"ttz":1.3125,"nll":6.7},{"tzq":1.3125,"ttz":1.3125,"nll":7.3},{"tzq":1.3375,"ttz":1.3125,"nll":7.9},{"tzq":1.3625,"ttz":1.3125,"nll":8.5},{"tzq":1.3875,"ttz":1.3125,"nll":9.2},{"tzq":1.4125,"ttz":1.3125,"nll":10.0},{"tzq":1.4375,"ttz":1.3125,"nll":10.8},{"tzq":1.4625,"ttz":1.3125,"nll":11.6},{"tzq":1.4875,"ttz":1.3125,"nll":12.5},{"tzq":1.5125,"ttz":1.3125,"nll":13.4},{"tzq":1.5375,"ttz":1.3125,"nll":14.3},{"tzq":1.5625,"ttz":1.3125,"nll":15.3},{"tzq":1.5875,"ttz":1.3125,"nll":16.3},{"tzq":1.6125,"ttz":1.3125,"nll":17.4},{"tzq":1.6375,"ttz":1.3125,"nll":18.4},{"tzq":1.6625,"ttz":1.3125,"nll":19.6},{"tzq":1.6875,"ttz":1.3125,"nll":20.7},{"tzq":1.7125,"ttz":1.3125,"nll":21.9},{"tzq":1.7375,"ttz":1.3125,"nll":23.1},{"tzq":1.7625,"ttz":1.3125,"nll":24.4},
{"tzq":0.5125,"ttz":1.3375,"nll":23.4},{"tzq":0.5375,"ttz":1.3375,"nll":21.9},{"tzq":0.5625,"ttz":1.3375,"nll":20.5},{"tzq":0.5875,"ttz":1.3375,"nll":19.1},{"tzq":0.6125,"ttz":1.3375,"nll":17.9},{"tzq":0.6375,"ttz":1.3375,"nll":16.8},{"tzq":0.6625,"ttz":1.3375,"nll":15.3},{"tzq":0.6875,"ttz":1.3375,"nll":13.9},{"tzq":0.7125,"ttz":1.3375,"nll":12.7},{"tzq":0.7375,"ttz":1.3375,"nll":11.6},{"tzq":0.7625,"ttz":1.3375,"nll":10.5},{"tzq":0.7875,"ttz":1.3375,"nll":9.6},{"tzq":0.8125,"ttz":1.3375,"nll":8.8},{"tzq":0.8375,"ttz":1.3375,"nll":8.1},{"tzq":0.8625,"ttz":1.3375,"nll":7.5},{"tzq":0.8875,"ttz":1.3375,"nll":7.0},{"tzq":0.9125,"ttz":1.3375,"nll":6.5},{"tzq":0.9375,"ttz":1.3375,"nll":6.2},{"tzq":0.9625,"ttz":1.3375,"nll":5.9},{"tzq":0.9875,"ttz":1.3375,"nll":5.7},{"tzq":1.0125,"ttz":1.3375,"nll":5.5},{"tzq":1.0375,"ttz":1.3375,"nll":5.4},{"tzq":1.0625,"ttz":1.3375,"nll":5.4},{"tzq":1.0875,"ttz":1.3375,"nll":5.5},{"tzq":1.1125,"ttz":1.3375,"nll":5.6},{"tzq":1.1375,"ttz":1.3375,"nll":5.7},{"tzq":1.1625,"ttz":1.3375,"nll":6.0},{"tzq":1.1875,"ttz":1.3375,"nll":6.2},{"tzq":1.2125,"ttz":1.3375,"nll":6.6},{"tzq":1.2375,"ttz":1.3375,"nll":7.0},{"tzq":1.2625,"ttz":1.3375,"nll":7.4},{"tzq":1.2875,"ttz":1.3375,"nll":7.9},{"tzq":1.3125,"ttz":1.3375,"nll":8.4},{"tzq":1.3375,"ttz":1.3375,"nll":9.0},{"tzq":1.3625,"ttz":1.3375,"nll":9.6},{"tzq":1.3875,"ttz":1.3375,"nll":10.3},{"tzq":1.4125,"ttz":1.3375,"nll":11.0},{"tzq":1.4375,"ttz":1.3375,"nll":11.7},{"tzq":1.4625,"ttz":1.3375,"nll":12.5},{"tzq":1.4875,"ttz":1.3375,"nll":13.4},{"tzq":1.5125,"ttz":1.3375,"nll":14.3},{"tzq":1.5375,"ttz":1.3375,"nll":15.2},{"tzq":1.5625,"ttz":1.3375,"nll":16.1},{"tzq":1.5875,"ttz":1.3375,"nll":17.1},{"tzq":1.6125,"ttz":1.3375,"nll":18.2},{"tzq":1.6375,"ttz":1.3375,"nll":19.2},{"tzq":1.6625,"ttz":1.3375,"nll":20.3},{"tzq":1.6875,"ttz":1.3375,"nll":21.4},{"tzq":1.7125,"ttz":1.3375,"nll":22.6},{"tzq":1.7375,"ttz":1.3375,"nll":23.8},
{"tzq":0.5125,"ttz":1.3625,"nll":24.9},{"tzq":0.5375,"ttz":1.3625,"nll":23.5},{"tzq":0.5625,"ttz":1.3625,"nll":22.2},{"tzq":0.5875,"ttz":1.3625,"nll":20.9},{"tzq":0.6125,"ttz":1.3625,"nll":19.8},{"tzq":0.6375,"ttz":1.3625,"nll":18.8},{"tzq":0.6625,"ttz":1.3625,"nll":17.3},{"tzq":0.6875,"ttz":1.3625,"nll":15.9},{"tzq":0.7125,"ttz":1.3625,"nll":14.6},{"tzq":0.7375,"ttz":1.3625,"nll":13.5},{"tzq":0.7625,"ttz":1.3625,"nll":12.4},{"tzq":0.7875,"ttz":1.3625,"nll":11.5},{"tzq":0.8125,"ttz":1.3625,"nll":10.6},{"tzq":0.8375,"ttz":1.3625,"nll":9.9},{"tzq":0.8625,"ttz":1.3625,"nll":9.3},{"tzq":0.8875,"ttz":1.3625,"nll":8.7},{"tzq":0.9125,"ttz":1.3625,"nll":8.2},{"tzq":0.9375,"ttz":1.3625,"nll":7.8},{"tzq":0.9625,"ttz":1.3625,"nll":7.5},{"tzq":0.9875,"ttz":1.3625,"nll":7.3},{"tzq":1.0125,"ttz":1.3625,"nll":7.1},{"tzq":1.0375,"ttz":1.3625,"nll":7.0},{"tzq":1.0625,"ttz":1.3625,"nll":7.0},{"tzq":1.0875,"ttz":1.3625,"nll":7.0},{"tzq":1.1125,"ttz":1.3625,"nll":7.1},{"tzq":1.1375,"ttz":1.3625,"nll":7.2},{"tzq":1.1625,"ttz":1.3625,"nll":7.4},{"tzq":1.1875,"ttz":1.3625,"nll":7.7},{"tzq":1.2125,"ttz":1.3625,"nll":8.0},{"tzq":1.2375,"ttz":1.3625,"nll":8.3},{"tzq":1.2625,"ttz":1.3625,"nll":8.7},{"tzq":1.2875,"ttz":1.3625,"nll":9.2},{"tzq":1.3125,"ttz":1.3625,"nll":9.7},{"tzq":1.3375,"ttz":1.3625,"nll":10.2},{"tzq":1.3625,"ttz":1.3625,"nll":10.9},{"tzq":1.3875,"ttz":1.3625,"nll":11.5},{"tzq":1.4125,"ttz":1.3625,"nll":12.2},{"tzq":1.4375,"ttz":1.3625,"nll":12.9},{"tzq":1.4625,"ttz":1.3625,"nll":13.7},{"tzq":1.4875,"ttz":1.3625,"nll":14.5},{"tzq":1.5125,"ttz":1.3625,"nll":15.4},{"tzq":1.5375,"ttz":1.3625,"nll":16.2},{"tzq":1.5625,"ttz":1.3625,"nll":17.2},{"tzq":1.5875,"ttz":1.3625,"nll":18.1},{"tzq":1.6125,"ttz":1.3625,"nll":19.1},{"tzq":1.6375,"ttz":1.3625,"nll":20.2},{"tzq":1.6625,"ttz":1.3625,"nll":21.3},{"tzq":1.6875,"ttz":1.3625,"nll":22.4},{"tzq":1.7125,"ttz":1.3625,"nll":23.5},{"tzq":1.7375,"ttz":1.3625,"nll":24.7},
{"tzq":0.5625,"ttz":1.3875,"nll":24.0},{"tzq":0.5875,"ttz":1.3875,"nll":22.9},{"tzq":0.6125,"ttz":1.3875,"nll":21.9},{"tzq":0.6375,"ttz":1.3875,"nll":21.0},{"tzq":0.6625,"ttz":1.3875,"nll":19.4},{"tzq":0.6875,"ttz":1.3875,"nll":18.0},{"tzq":0.7125,"ttz":1.3875,"nll":16.7},{"tzq":0.7375,"ttz":1.3875,"nll":15.5},{"tzq":0.7625,"ttz":1.3875,"nll":14.5},{"tzq":0.7875,"ttz":1.3875,"nll":13.5},{"tzq":0.8125,"ttz":1.3875,"nll":12.6},{"tzq":0.8375,"ttz":1.3875,"nll":11.9},{"tzq":0.8625,"ttz":1.3875,"nll":11.2},{"tzq":0.8875,"ttz":1.3875,"nll":10.6},{"tzq":0.9125,"ttz":1.3875,"nll":10.1},{"tzq":0.9375,"ttz":1.3875,"nll":9.7},{"tzq":0.9625,"ttz":1.3875,"nll":9.4},{"tzq":0.9875,"ttz":1.3875,"nll":9.1},{"tzq":1.0125,"ttz":1.3875,"nll":8.9},{"tzq":1.0375,"ttz":1.3875,"nll":8.8},{"tzq":1.0625,"ttz":1.3875,"nll":8.7},{"tzq":1.0875,"ttz":1.3875,"nll":8.7},{"tzq":1.1125,"ttz":1.3875,"nll":8.8},{"tzq":1.1375,"ttz":1.3875,"nll":8.9},{"tzq":1.1625,"ttz":1.3875,"nll":9.0},{"tzq":1.1875,"ttz":1.3875,"nll":9.3},{"tzq":1.2125,"ttz":1.3875,"nll":9.5},{"tzq":1.2375,"ttz":1.3875,"nll":9.9},{"tzq":1.2625,"ttz":1.3875,"nll":10.3},{"tzq":1.2875,"ttz":1.3875,"nll":10.7},{"tzq":1.3125,"ttz":1.3875,"nll":11.2},{"tzq":1.3375,"ttz":1.3875,"nll":11.7},{"tzq":1.3625,"ttz":1.3875,"nll":12.3},{"tzq":1.3875,"ttz":1.3875,"nll":12.9},{"tzq":1.4125,"ttz":1.3875,"nll":13.6},{"tzq":1.4375,"ttz":1.3875,"nll":14.3},{"tzq":1.4625,"ttz":1.3875,"nll":15.0},{"tzq":1.4875,"ttz":1.3875,"nll":15.8},{"tzq":1.5125,"ttz":1.3875,"nll":16.6},{"tzq":1.5375,"ttz":1.3875,"nll":17.5},{"tzq":1.5625,"ttz":1.3875,"nll":18.4},{"tzq":1.5875,"ttz":1.3875,"nll":19.3},{"tzq":1.6125,"ttz":1.3875,"nll":20.3},{"tzq":1.6375,"ttz":1.3875,"nll":21.3},{"tzq":1.6625,"ttz":1.3875,"nll":22.4},{"tzq":1.6875,"ttz":1.3875,"nll":23.4},{"tzq":1.7125,"ttz":1.3875,"nll":24.6},
{"tzq":0.6125,"ttz":1.4125,"nll":24.1},{"tzq":0.6375,"ttz":1.4125,"nll":23.3},{"tzq":0.6625,"ttz":1.4125,"nll":21.7},{"tzq":0.6875,"ttz":1.4125,"nll":20.3},{"tzq":0.7125,"ttz":1.4125,"nll":19.0},{"tzq":0.7375,"ttz":1.4125,"nll":17.8},{"tzq":0.7625,"ttz":1.4125,"nll":16.7},{"tzq":0.7875,"ttz":1.4125,"nll":15.7},{"tzq":0.8125,"ttz":1.4125,"nll":14.8},{"tzq":0.8375,"ttz":1.4125,"nll":14.0},{"tzq":0.8625,"ttz":1.4125,"nll":13.3},{"tzq":0.8875,"ttz":1.4125,"nll":12.7},{"tzq":0.9125,"ttz":1.4125,"nll":12.2},{"tzq":0.9375,"ttz":1.4125,"nll":11.7},{"tzq":0.9625,"ttz":1.4125,"nll":11.4},{"tzq":0.9875,"ttz":1.4125,"nll":11.1},{"tzq":1.0125,"ttz":1.4125,"nll":10.9},{"tzq":1.0375,"ttz":1.4125,"nll":10.7},{"tzq":1.0625,"ttz":1.4125,"nll":10.6},{"tzq":1.0875,"ttz":1.4125,"nll":10.6},{"tzq":1.1125,"ttz":1.4125,"nll":10.6},{"tzq":1.1375,"ttz":1.4125,"nll":10.7},{"tzq":1.1625,"ttz":1.4125,"nll":10.8},{"tzq":1.1875,"ttz":1.4125,"nll":11.0},{"tzq":1.2125,"ttz":1.4125,"nll":11.3},{"tzq":1.2375,"ttz":1.4125,"nll":11.6},{"tzq":1.2625,"ttz":1.4125,"nll":12.0},{"tzq":1.2875,"ttz":1.4125,"nll":12.4},{"tzq":1.3125,"ttz":1.4125,"nll":12.8},{"tzq":1.3375,"ttz":1.4125,"nll":13.3},{"tzq":1.3625,"ttz":1.4125,"nll":13.9},{"tzq":1.3875,"ttz":1.4125,"nll":14.5},{"tzq":1.4125,"ttz":1.4125,"nll":15.1},{"tzq":1.4375,"ttz":1.4125,"nll":15.8},{"tzq":1.4625,"ttz":1.4125,"nll":16.5},{"tzq":1.4875,"ttz":1.4125,"nll":17.3},{"tzq":1.5125,"ttz":1.4125,"nll":18.1},{"tzq":1.5375,"ttz":1.4125,"nll":18.9},{"tzq":1.5625,"ttz":1.4125,"nll":19.8},{"tzq":1.5875,"ttz":1.4125,"nll":20.7},{"tzq":1.6125,"ttz":1.4125,"nll":21.6},{"tzq":1.6375,"ttz":1.4125,"nll":22.6},{"tzq":1.6625,"ttz":1.4125,"nll":23.7},{"tzq":1.6875,"ttz":1.4125,"nll":24.7},
{"tzq":0.6625,"ttz":1.4375,"nll":24.2},{"tzq":0.6875,"ttz":1.4375,"nll":22.7},{"tzq":0.7125,"ttz":1.4375,"nll":21.4},{"tzq":0.7375,"ttz":1.4375,"nll":20.2},{"tzq":0.7625,"ttz":1.4375,"nll":19.0},{"tzq":0.7875,"ttz":1.4375,"nll":18.0},{"tzq":0.8125,"ttz":1.4375,"nll":17.1},{"tzq":0.8375,"ttz":1.4375,"nll":16.3},{"tzq":0.8625,"ttz":1.4375,"nll":15.6},{"tzq":0.8875,"ttz":1.4375,"nll":15.0},{"tzq":0.9125,"ttz":1.4375,"nll":14.4},{"tzq":0.9375,"ttz":1.4375,"nll":13.9},{"tzq":0.9625,"ttz":1.4375,"nll":13.5},{"tzq":0.9875,"ttz":1.4375,"nll":13.2},{"tzq":1.0125,"ttz":1.4375,"nll":13.0},{"tzq":1.0375,"ttz":1.4375,"nll":12.8},{"tzq":1.0625,"ttz":1.4375,"nll":12.7},{"tzq":1.0875,"ttz":1.4375,"nll":12.6},{"tzq":1.1125,"ttz":1.4375,"nll":12.6},{"tzq":1.1375,"ttz":1.4375,"nll":12.7},{"tzq":1.1625,"ttz":1.4375,"nll":12.8},{"tzq":1.1875,"ttz":1.4375,"nll":13.0},{"tzq":1.2125,"ttz":1.4375,"nll":13.2},{"tzq":1.2375,"ttz":1.4375,"nll":13.5},{"tzq":1.2625,"ttz":1.4375,"nll":13.8},{"tzq":1.2875,"ttz":1.4375,"nll":14.2},{"tzq":1.3125,"ttz":1.4375,"nll":14.6},{"tzq":1.3375,"ttz":1.4375,"nll":15.1},{"tzq":1.3625,"ttz":1.4375,"nll":15.6},{"tzq":1.3875,"ttz":1.4375,"nll":16.2},{"tzq":1.4125,"ttz":1.4375,"nll":16.8},{"tzq":1.4375,"ttz":1.4375,"nll":17.5},{"tzq":1.4625,"ttz":1.4375,"nll":18.2},{"tzq":1.4875,"ttz":1.4375,"nll":18.9},{"tzq":1.5125,"ttz":1.4375,"nll":19.7},{"tzq":1.5375,"ttz":1.4375,"nll":20.5},{"tzq":1.5625,"ttz":1.4375,"nll":21.3},{"tzq":1.5875,"ttz":1.4375,"nll":22.2},{"tzq":1.6125,"ttz":1.4375,"nll":23.2},{"tzq":1.6375,"ttz":1.4375,"nll":24.1},
{"tzq":0.7125,"ttz":1.4625,"nll":24.0},{"tzq":0.7375,"ttz":1.4625,"nll":22.7},{"tzq":0.7625,"ttz":1.4625,"nll":21.6},{"tzq":0.7875,"ttz":1.4625,"nll":20.5},{"tzq":0.8125,"ttz":1.4625,"nll":19.6},{"tzq":0.8375,"ttz":1.4625,"nll":18.8},{"tzq":0.8625,"ttz":1.4625,"nll":18.0},{"tzq":0.8875,"ttz":1.4625,"nll":17.4},{"tzq":0.9125,"ttz":1.4625,"nll":16.8},{"tzq":0.9375,"ttz":1.4625,"nll":16.3},{"tzq":0.9625,"ttz":1.4625,"nll":15.9},{"tzq":0.9875,"ttz":1.4625,"nll":15.5},{"tzq":1.0125,"ttz":1.4625,"nll":15.3},{"tzq":1.0375,"ttz":1.4625,"nll":15.1},{"tzq":1.0625,"ttz":1.4625,"nll":14.9},{"tzq":1.0875,"ttz":1.4625,"nll":14.8},{"tzq":1.1125,"ttz":1.4625,"nll":14.8},{"tzq":1.1375,"ttz":1.4625,"nll":14.9},{"tzq":1.1625,"ttz":1.4625,"nll":14.9},{"tzq":1.1875,"ttz":1.4625,"nll":15.1},{"tzq":1.2125,"ttz":1.4625,"nll":15.3},{"tzq":1.2375,"ttz":1.4625,"nll":15.6},{"tzq":1.2625,"ttz":1.4625,"nll":15.9},{"tzq":1.2875,"ttz":1.4625,"nll":16.2},{"tzq":1.3125,"ttz":1.4625,"nll":16.6},{"tzq":1.3375,"ttz":1.4625,"nll":17.1},{"tzq":1.3625,"ttz":1.4625,"nll":17.6},{"tzq":1.3875,"ttz":1.4625,"nll":18.1},{"tzq":1.4125,"ttz":1.4625,"nll":18.7},{"tzq":1.4375,"ttz":1.4625,"nll":19.3},{"tzq":1.4625,"ttz":1.4625,"nll":20.0},{"tzq":1.4875,"ttz":1.4625,"nll":20.7},{"tzq":1.5125,"ttz":1.4625,"nll":21.4},{"tzq":1.5375,"ttz":1.4625,"nll":22.2},{"tzq":1.5625,"ttz":1.4625,"nll":23.1},{"tzq":1.5875,"ttz":1.4625,"nll":23.9},{"tzq":1.6125,"ttz":1.4625,"nll":24.8},
{"tzq":0.7625,"ttz":1.4875,"nll":24.3},{"tzq":0.7875,"ttz":1.4875,"nll":23.2},{"tzq":0.8125,"ttz":1.4875,"nll":22.2},{"tzq":0.8375,"ttz":1.4875,"nll":21.4},{"tzq":0.8625,"ttz":1.4875,"nll":20.6},{"tzq":0.8875,"ttz":1.4875,"nll":19.9},{"tzq":0.9125,"ttz":1.4875,"nll":19.3},{"tzq":0.9375,"ttz":1.4875,"nll":18.8},{"tzq":0.9625,"ttz":1.4875,"nll":18.4},{"tzq":0.9875,"ttz":1.4875,"nll":18.0},{"tzq":1.0125,"ttz":1.4875,"nll":17.7},{"tzq":1.0375,"ttz":1.4875,"nll":17.5},{"tzq":1.0625,"ttz":1.4875,"nll":17.3},{"tzq":1.0875,"ttz":1.4875,"nll":17.2},{"tzq":1.1125,"ttz":1.4875,"nll":17.1},{"tzq":1.1375,"ttz":1.4875,"nll":17.2},{"tzq":1.1625,"ttz":1.4875,"nll":17.2},{"tzq":1.1875,"ttz":1.4875,"nll":17.3},{"tzq":1.2125,"ttz":1.4875,"nll":17.5},{"tzq":1.2375,"ttz":1.4875,"nll":17.8},{"tzq":1.2625,"ttz":1.4875,"nll":18.0},{"tzq":1.2875,"ttz":1.4875,"nll":18.4},{"tzq":1.3125,"ttz":1.4875,"nll":18.7},{"tzq":1.3375,"ttz":1.4875,"nll":19.2},{"tzq":1.3625,"ttz":1.4875,"nll":19.6},{"tzq":1.3875,"ttz":1.4875,"nll":20.2},{"tzq":1.4125,"ttz":1.4875,"nll":20.7},{"tzq":1.4375,"ttz":1.4875,"nll":21.3},{"tzq":1.4625,"ttz":1.4875,"nll":22.0},{"tzq":1.4875,"ttz":1.4875,"nll":22.6},{"tzq":1.5125,"ttz":1.4875,"nll":23.4},{"tzq":1.5375,"ttz":1.4875,"nll":24.1},{"tzq":1.5625,"ttz":1.4875,"nll":24.9},
{"tzq":0.8375,"ttz":1.5125,"nll":24.1},{"tzq":0.8625,"ttz":1.5125,"nll":23.3},{"tzq":0.8875,"ttz":1.5125,"nll":22.6},{"tzq":0.9125,"ttz":1.5125,"nll":22.0},{"tzq":0.9375,"ttz":1.5125,"nll":21.5},{"tzq":0.9625,"ttz":1.5125,"nll":21.0},{"tzq":0.9875,"ttz":1.5125,"nll":20.6},{"tzq":1.0125,"ttz":1.5125,"nll":20.3},{"tzq":1.0375,"ttz":1.5125,"nll":20.0},{"tzq":1.0625,"ttz":1.5125,"nll":19.8},{"tzq":1.0875,"ttz":1.5125,"nll":19.7},{"tzq":1.1125,"ttz":1.5125,"nll":19.6},{"tzq":1.1375,"ttz":1.5125,"nll":19.6},{"tzq":1.1625,"ttz":1.5125,"nll":19.7},{"tzq":1.1875,"ttz":1.5125,"nll":19.7},{"tzq":1.2125,"ttz":1.5125,"nll":19.9},{"tzq":1.2375,"ttz":1.5125,"nll":20.1},{"tzq":1.2625,"ttz":1.5125,"nll":20.4},{"tzq":1.2875,"ttz":1.5125,"nll":20.7},{"tzq":1.3125,"ttz":1.5125,"nll":21.0},{"tzq":1.3375,"ttz":1.5125,"nll":21.4},{"tzq":1.3625,"ttz":1.5125,"nll":21.9},{"tzq":1.3875,"ttz":1.5125,"nll":22.4},{"tzq":1.4125,"ttz":1.5125,"nll":22.9},{"tzq":1.4375,"ttz":1.5125,"nll":23.5},{"tzq":1.4625,"ttz":1.5125,"nll":24.1},{"tzq":1.4875,"ttz":1.5125,"nll":24.7},
{"tzq":0.9125,"ttz":1.5375,"nll":24.8},{"tzq":0.9375,"ttz":1.5375,"nll":24.3},{"tzq":0.9625,"ttz":1.5375,"nll":23.8},{"tzq":0.9875,"ttz":1.5375,"nll":23.4},{"tzq":1.0125,"ttz":1.5375,"nll":23.0},{"tzq":1.0375,"ttz":1.5375,"nll":22.7},{"tzq":1.0625,"ttz":1.5375,"nll":22.5},{"tzq":1.0875,"ttz":1.5375,"nll":22.3},{"tzq":1.1125,"ttz":1.5375,"nll":22.2},{"tzq":1.1375,"ttz":1.5375,"nll":22.2},{"tzq":1.1625,"ttz":1.5375,"nll":22.2},{"tzq":1.1875,"ttz":1.5375,"nll":22.3},{"tzq":1.2125,"ttz":1.5375,"nll":22.4},{"tzq":1.2375,"ttz":1.5375,"nll":22.6},{"tzq":1.2625,"ttz":1.5375,"nll":22.8},{"tzq":1.2875,"ttz":1.5375,"nll":23.1},{"tzq":1.3125,"ttz":1.5375,"nll":23.4},{"tzq":1.3375,"ttz":1.5375,"nll":23.8},{"tzq":1.3625,"ttz":1.5375,"nll":24.2},{"tzq":1.3875,"ttz":1.5375,"nll":24.7}
      ]},
      "mark": {"type": "rect", "binSpacing": 0},
      "encoding": {
        "x": {"field": "tzq", "type": "quantitative", "bin": {"step": 0.025, "extent": [0, 2]}, "scale": {"domain": [0, 2]},
          "axis": {"orient": "bottom", "values": [0,0.2,0.4,0.6,0.8,1,1.2,1.4,1.6,1.8,2], "format": "~g", "ticks": false, "labelFontSize": 33, "labelPadding": 9,
            "title": "tZq cross section ratio to the SM", "titleFontSize": 39, "titleX": 935, "titleY": 93, "titleAlign": "right", "titleAnchor": "end", "titleBaseline": "alphabetic"}},
        "y": {"field": "ttz", "type": "quantitative", "bin": {"step": 0.025, "extent": [0, 2]}, "scale": {"domain": [0, 2]},
          "axis": {"orient": "left", "values": [0,0.2,0.4,0.6,0.8,1,1.2,1.4,1.6,1.8,2], "format": "~g", "ticks": false, "labelFontSize": 33, "labelPadding": 9,
            "title": "tt̄Z+tWZ cross section ratio to the SM", "titleFontSize": 48, "titleX": -70, "titleY": 3, "titleAngle": -90, "titleAlign": "right", "titleAnchor": "end", "titleBaseline": "alphabetic"}},
        "color": {"field": "nll", "type": "quantitative",
          "scale": {"domain": [0,2.5,5,7.5,10,12.5,15,17.5,20,22.5,25], "range": ["#dcdcdc","#cfcdbf","#c3c09f","#b5b583","#a6a770","#939563","#7f845e","#6c7a5f","#5d7766","#5f8a90","#79b5d0"], "clamp": true},
          "legend": {"orient": "none", "legendX": 941, "legendY": 0, "direction": "vertical", "title": null, "gradientLength": 895, "gradientThickness": 53, "values": [0,5,10,15,20,25], "labelFontSize": 33, "labelFont": "Liberation Sans", "labelColor": "black", "labelOffset": 9, "labelOverlap": false, "gradientStrokeWidth": 0,
            "encode": {"labels": {"update": {"baseline": {"value": "middle"}}}}}}
      }
    },
    {
      "data": {"values": [{"sm": 1}]},
      "mark": {"type": "rule", "color": "#e4e4e4", "strokeWidth": 1.5, "opacity": 0.8},
      "encoding": {
        "x": {"field": "sm", "type": "quantitative",
          "axis": {"orient": "top", "labels": false, "ticks": false, "title": "Preliminary", "titleFontStyle": "italic", "titleFontSize": 34, "titleX": 111, "titleY": -19, "titleAlign": "left", "titleAngle": 0, "titleBaseline": "alphabetic"}}
      }
    },
    {
      "data": {"values": [{"sm": 1}]},
      "mark": {"type": "rule", "color": "#e4e4e4", "strokeWidth": 1.5, "opacity": 0.8},
      "encoding": {
        "y": {"field": "sm", "type": "quantitative",
          "axis": {"orient": "right", "offset": 59, "values": [0,0.4,0.8,1.2,1.6,2], "labels": false, "tickSize": -26, "title": null, "zindex": 2}}
      }
    },
    {
      "data": {"values": [
        {"tzq":0.678,"ttz":1.144,"i":0},{"tzq":0.687,"ttz":1.200,"i":1},{"tzq":0.717,"ttz":1.251,"i":2},{"tzq":0.766,"ttz":1.296,"i":3},{"tzq":0.830,"ttz":1.327,"i":4},{"tzq":0.916,"ttz":1.347,"i":5},{"tzq":1.012,"ttz":1.356,"i":6},{"tzq":1.108,"ttz":1.354,"i":7},{"tzq":1.194,"ttz":1.341,"i":8},{"tzq":1.268,"ttz":1.314,"i":9},{"tzq":1.322,"ttz":1.278,"i":10},{"tzq":1.352,"ttz":1.234,"i":11},{"tzq":1.354,"ttz":1.184,"i":12},{"tzq":1.333,"ttz":1.135,"i":13},{"tzq":1.286,"ttz":1.091,"i":14},{"tzq":1.226,"ttz":1.055,"i":15},{"tzq":1.151,"ttz":1.028,"i":16},{"tzq":1.076,"ttz":1.010,"i":17},{"tzq":1.001,"ttz":0.999,"i":18},{"tzq":0.916,"ttz":0.994,"i":19},{"tzq":0.830,"ttz":1.006,"i":20},{"tzq":0.759,"ttz":1.032,"i":21},{"tzq":0.708,"ttz":1.073,"i":22},{"tzq":0.682,"ttz":1.111,"i":23},{"tzq":0.678,"ttz":1.144,"i":24}
      ]},
      "mark": {"type": "line", "color": "#d48a84", "strokeWidth": 5, "strokeJoin": "round"},
      "encoding": {
        "x": {"field": "tzq", "type": "quantitative", "axis": {"orient": "bottom", "values": [0,0.2,0.4,0.6,0.8,1,1.2,1.4,1.6,1.8,2], "labels": false, "tickSize": -25, "title": null}},
        "y": {"field": "ttz", "type": "quantitative", "axis": {"orient": "left", "values": [0,0.2,0.4,0.6,0.8,1,1.2,1.4,1.6,1.8,2], "labels": false, "tickSize": -27, "title": null}},
        "order": {"field": "i", "type": "quantitative"}
      }
    },
    {
      "data": {"values": [
        {"tzq":0.798,"ttz":1.140,"i":0},{"tzq":0.806,"ttz":1.184,"i":1},{"tzq":0.830,"ttz":1.218,"i":2},{"tzq":0.866,"ttz":1.241,"i":3},{"tzq":0.916,"ttz":1.258,"i":4},{"tzq":0.980,"ttz":1.276,"i":5},{"tzq":1.055,"ttz":1.283,"i":6},{"tzq":1.119,"ttz":1.276,"i":7},{"tzq":1.172,"ttz":1.258,"i":8},{"tzq":1.209,"ttz":1.229,"i":9},{"tzq":1.217,"ttz":1.193,"i":10},{"tzq":1.204,"ttz":1.158,"i":11},{"tzq":1.170,"ttz":1.128,"i":12},{"tzq":1.119,"ttz":1.104,"i":13},{"tzq":1.055,"ttz":1.086,"i":14},{"tzq":0.990,"ttz":1.073,"i":15},{"tzq":0.926,"ttz":1.066,"i":16},{"tzq":0.866,"ttz":1.070,"i":17},{"tzq":0.826,"ttz":1.091,"i":18},{"tzq":0.802,"ttz":1.113,"i":19},{"tzq":0.798,"ttz":1.140,"i":20}
      ]},
      "mark": {"type": "line", "color": "#c8161e", "strokeWidth": 6, "strokeJoin": "round"},
      "encoding": {
        "x": {"field": "tzq", "type": "quantitative", "axis": {"orient": "bottom", "values": [0.05,0.1,0.15,0.25,0.3,0.35,0.45,0.5,0.55,0.65,0.7,0.75,0.85,0.9,0.95,1.05,1.1,1.15,1.25,1.3,1.35,1.45,1.5,1.55,1.65,1.7,1.75,1.85,1.9,1.95], "labels": false, "tickSize": -13, "title": null}},
        "y": {"field": "ttz", "type": "quantitative", "axis": {"orient": "left", "values": [0.05,0.1,0.15,0.25,0.3,0.35,0.45,0.5,0.55,0.65,0.7,0.75,0.85,0.9,0.95,1.05,1.1,1.15,1.25,1.3,1.35,1.45,1.5,1.55,1.65,1.7,1.75,1.85,1.9,1.95], "labels": false, "tickSize": -14, "title": null}},
        "order": {"field": "i", "type": "quantitative"}
      }
    },
    {
      "data": {"values": [{"tzq": 0.988, "ttz": 1.162, "label": "Best fit"}]},
      "mark": {"type": "point", "filled": true, "size": 1764, "opacity": 1},
      "encoding": {
        "x": {"field": "tzq", "type": "quantitative", "axis": {"orient": "top", "values": [0,0.2,0.4,0.6,0.8,1,1.2,1.4,1.6,1.8,2], "labels": false, "tickSize": -25,
          "title": "CMS", "titleFontWeight": "bold", "titleFontSize": 41, "titleX": 0, "titleY": -19, "titleAlign": "left", "titleAngle": 0, "titleBaseline": "alphabetic"}},
        "y": {"field": "ttz", "type": "quantitative", "axis": {"orient": "right", "values": [0,0.2,0.4,0.6,0.8,1,1.2,1.4,1.6,1.8,2], "labels": false, "tickSize": -27, "title": null}},
        "shape": {"field": "label", "type": "nominal", "scale": {"domain": ["Best fit", "1σ CL", "2σ CL", "SM"], "range": ["M-0.25,-0.74H0.25V-0.25H0.74V0.25H0.25V0.74H-0.25V0.25H-0.74V-0.25H-0.25Z", "stroke", "stroke", "M0,-0.74L0.5,0L0,0.74L-0.5,0Z"]},
          "legend": {"orient": "none", "legendX": 578, "legendY": 513, "title": null, "fillColor": "white", "padding": 17, "rowPadding": 23, "labelFontSize": 42, "labelFont": "Liberation Sans", "labelColor": "black", "labelOffset": 7, "symbolOffset": -10, "symbolSize": 1764, "symbolStrokeWidth": 5, "labelLimit": 0}},
        "fill": {"field": "label", "type": "nominal", "scale": {"domain": ["Best fit", "1σ CL", "2σ CL", "SM"], "range": ["black", "#c8161e", "#d48a84", "black"]},
          "legend": {"orient": "none", "legendX": 578, "legendY": 513, "title": null, "fillColor": "white", "padding": 17, "rowPadding": 23, "labelFontSize": 42, "labelFont": "Liberation Sans", "labelColor": "black", "labelOffset": 7, "symbolOffset": -10, "symbolSize": 1764, "symbolStrokeWidth": 5, "labelLimit": 0}},
        "stroke": {"field": "label", "type": "nominal", "scale": {"domain": ["Best fit", "1σ CL", "2σ CL", "SM"], "range": ["transparent", "#c8161e", "#d48a84", "transparent"]},
          "legend": {"orient": "none", "legendX": 578, "legendY": 513, "title": null, "fillColor": "white", "padding": 17, "rowPadding": 23, "labelFontSize": 42, "labelFont": "Liberation Sans", "labelColor": "black", "labelOffset": 7, "symbolOffset": -10, "symbolSize": 1764, "symbolStrokeWidth": 5, "labelLimit": 0}}
      }
    },
    {
      "data": {"values": [{"tzq": 1.0, "ttz": 1.0, "label": "SM"}]},
      "mark": {"type": "point", "filled": true, "size": 1764, "opacity": 1},
      "encoding": {
        "x": {"field": "tzq", "type": "quantitative", "axis": {"orient": "top", "values": [0.05,0.1,0.15,0.25,0.3,0.35,0.45,0.5,0.55,0.65,0.7,0.75,0.85,0.9,0.95,1.05,1.1,1.15,1.25,1.3,1.35,1.45,1.5,1.55,1.65,1.7,1.75,1.85,1.9,1.95], "labels": false, "tickSize": -13, "title": null}},
        "y": {"field": "ttz", "type": "quantitative", "axis": {"orient": "right", "values": [0.05,0.1,0.15,0.25,0.3,0.35,0.45,0.5,0.55,0.65,0.7,0.75,0.85,0.9,0.95,1.05,1.1,1.15,1.25,1.3,1.35,1.45,1.5,1.55,1.65,1.7,1.75,1.85,1.9,1.95], "labels": false, "tickSize": -14, "title": null}},
        "shape": {"field": "label", "type": "nominal", "scale": {"domain": ["Best fit", "1σ CL", "2σ CL", "SM"], "range": ["M-0.25,-0.74H0.25V-0.25H0.74V0.25H0.25V0.74H-0.25V0.25H-0.74V-0.25H-0.25Z", "stroke", "stroke", "M0,-0.74L0.5,0L0,0.74L-0.5,0Z"]}},
        "fill": {"field": "label", "type": "nominal", "scale": {"domain": ["Best fit", "1σ CL", "2σ CL", "SM"], "range": ["black", "#c8161e", "#d48a84", "black"]}},
        "stroke": {"field": "label", "type": "nominal", "scale": {"domain": ["Best fit", "1σ CL", "2σ CL", "SM"], "range": ["transparent", "#c8161e", "#d48a84", "transparent"]}}
      }
    }
  ]
}
